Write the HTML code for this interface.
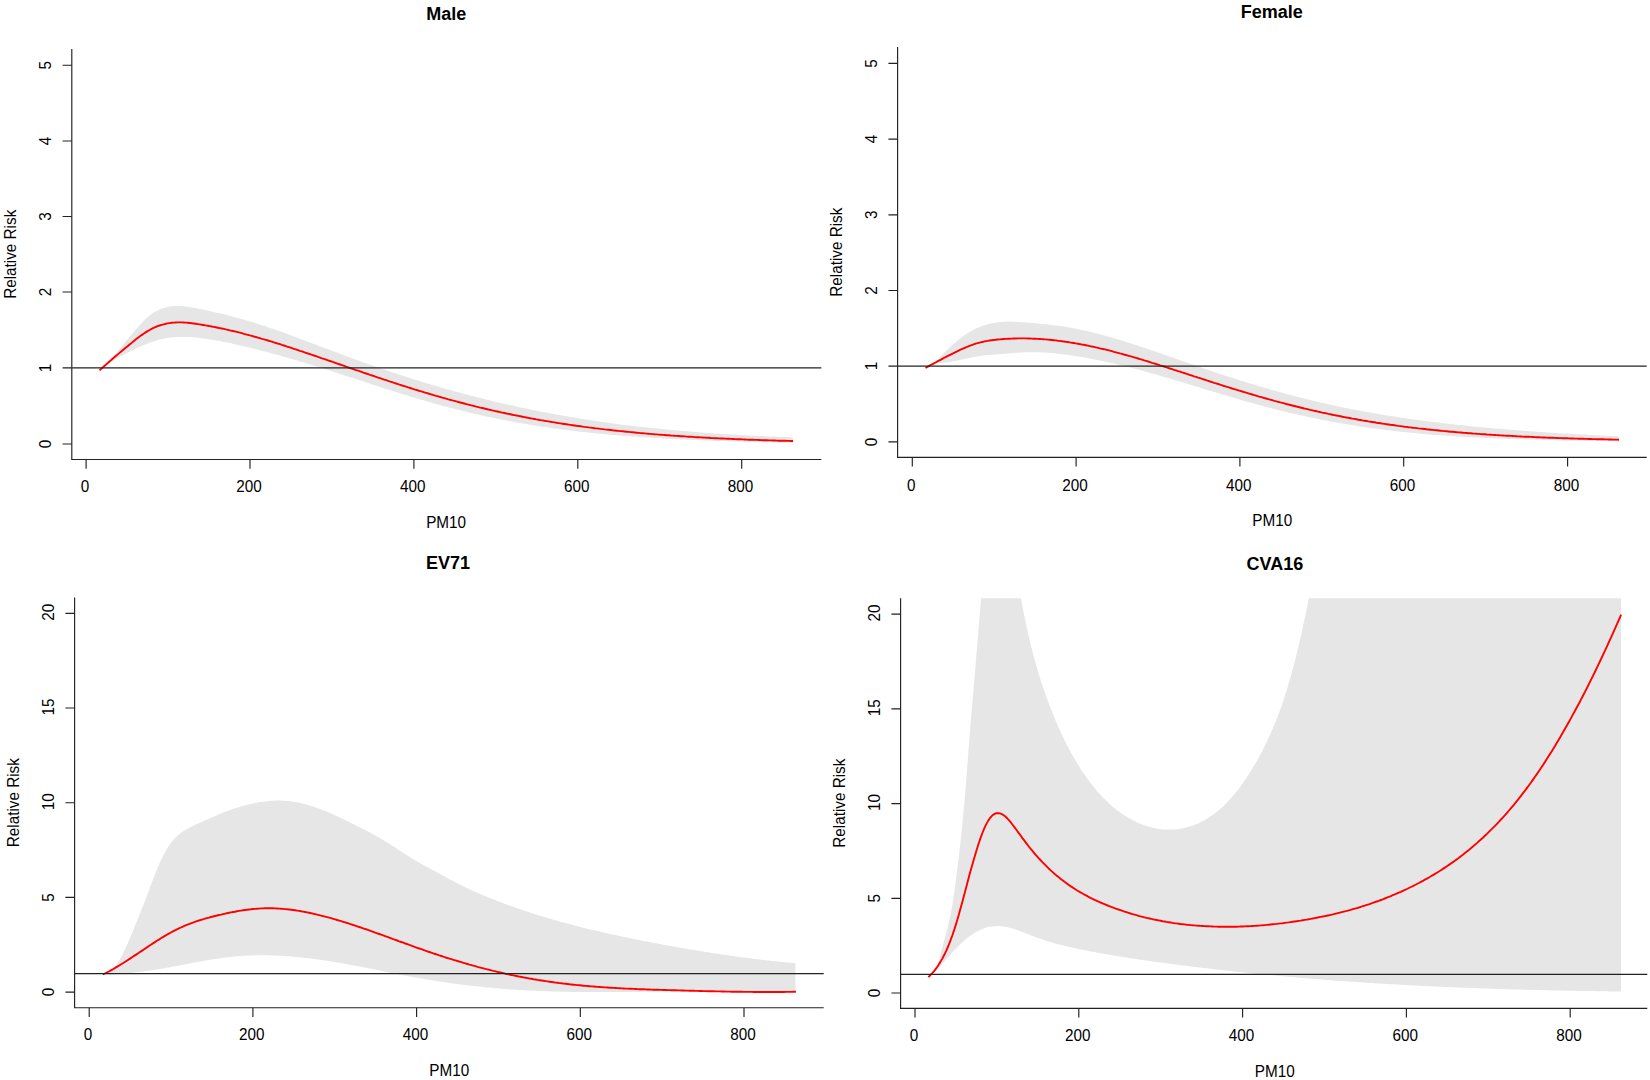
<!DOCTYPE html>
<html lang="en"><head><meta charset="utf-8"><title>Relative Risk vs PM10</title>
<style>html,body{margin:0;padding:0;background:#fff;}body{width:1650px;height:1080px;overflow:hidden;}svg{display:block;}</style>
</head><body>
<svg width="1650" height="1080" viewBox="0 0 1650 1080" font-family="'Liberation Sans', sans-serif" font-size="16.4" fill="#000">
<rect width="1650" height="1080" fill="#fff"/>
<defs><clipPath id="c0"><rect x="71.8" y="49.1" width="749.5" height="410.4"/></clipPath></defs>
<g clip-path="url(#c0)">
<path d="M99.5 370.4 L101.5 368.4 L103.5 366.4 L105.5 364.4 L107.5 362.4 L109.5 360.4 L111.5 358.2 L113.5 356.0 L115.5 353.7 L117.5 351.4 L119.5 349.0 L121.5 346.5 L123.6 344.0 L125.6 341.6 L127.6 339.2 L129.6 336.8 L131.6 334.4 L133.6 332.1 L135.6 329.8 L137.6 327.5 L139.6 325.3 L141.6 323.1 L143.6 321.1 L145.6 319.1 L147.6 317.2 L149.6 315.5 L151.6 314.0 L153.6 312.6 L155.6 311.4 L157.6 310.4 L159.6 309.4 L161.6 308.6 L163.6 308.0 L165.6 307.4 L167.6 306.9 L169.7 306.5 L171.7 306.3 L173.7 306.1 L175.7 306.0 L177.7 305.9 L179.7 306.0 L181.7 306.1 L183.7 306.2 L185.7 306.4 L187.7 306.7 L189.7 307.0 L191.7 307.4 L193.7 307.7 L195.7 308.1 L197.7 308.5 L199.7 308.9 L201.7 309.3 L203.7 309.8 L205.7 310.2 L207.7 310.6 L209.7 311.1 L211.7 311.5 L213.7 312.0 L215.8 312.4 L217.8 312.9 L219.8 313.3 L221.8 313.8 L223.8 314.3 L225.8 314.8 L227.8 315.3 L229.8 315.8 L231.8 316.3 L233.8 316.9 L235.8 317.4 L237.8 317.9 L239.8 318.5 L241.8 319.1 L243.8 319.6 L245.8 320.2 L247.8 320.8 L249.8 321.4 L251.8 322.0 L253.8 322.6 L255.8 323.2 L257.8 323.9 L259.8 324.5 L261.9 325.2 L263.9 325.8 L265.9 326.5 L267.9 327.2 L269.9 327.9 L271.9 328.6 L273.9 329.3 L275.9 330.0 L277.9 330.7 L279.9 331.4 L281.9 332.1 L283.9 332.8 L285.9 333.5 L287.9 334.3 L289.9 335.0 L291.9 335.7 L293.9 336.5 L295.9 337.2 L297.9 338.0 L299.9 338.7 L301.9 339.5 L303.9 340.2 L305.9 341.0 L308.0 341.7 L310.0 342.5 L312.0 343.3 L314.0 344.0 L316.0 344.8 L318.0 345.5 L320.0 346.3 L322.0 347.1 L324.0 347.8 L326.0 348.6 L328.0 349.3 L330.0 350.1 L332.0 350.8 L334.0 351.6 L336.0 352.3 L338.0 353.1 L340.0 353.8 L342.0 354.6 L344.0 355.3 L346.0 356.1 L348.0 356.8 L350.0 357.5 L352.0 358.3 L354.1 359.0 L356.1 359.7 L358.1 360.4 L360.1 361.2 L362.1 361.9 L364.1 362.6 L366.1 363.3 L368.1 364.0 L370.1 364.7 L372.1 365.4 L374.1 366.1 L376.1 366.8 L378.1 367.5 L380.1 368.2 L382.1 368.9 L384.1 369.6 L386.1 370.2 L388.1 370.9 L390.1 371.6 L392.1 372.3 L394.1 372.9 L396.1 373.6 L398.1 374.2 L400.2 374.9 L402.2 375.5 L404.2 376.2 L406.2 376.8 L408.2 377.5 L410.2 378.1 L412.2 378.7 L414.2 379.4 L416.2 380.0 L418.2 380.6 L420.2 381.2 L422.2 381.9 L424.2 382.5 L426.2 383.1 L428.2 383.7 L430.2 384.3 L432.2 384.9 L434.2 385.5 L436.2 386.1 L438.2 386.6 L440.2 387.2 L442.2 387.8 L444.2 388.4 L446.2 388.9 L448.3 389.5 L450.3 390.1 L452.3 390.6 L454.3 391.2 L456.3 391.7 L458.3 392.3 L460.3 392.8 L462.3 393.4 L464.3 393.9 L466.3 394.4 L468.3 395.0 L470.3 395.5 L472.3 396.0 L474.3 396.5 L476.3 397.0 L478.3 397.5 L480.3 398.0 L482.3 398.5 L484.3 399.0 L486.3 399.5 L488.3 400.0 L490.3 400.5 L492.3 401.0 L494.4 401.5 L496.4 402.0 L498.4 402.4 L500.4 402.9 L502.4 403.4 L504.4 403.8 L506.4 404.3 L508.4 404.7 L510.4 405.2 L512.4 405.6 L514.4 406.1 L516.4 406.5 L518.4 406.9 L520.4 407.4 L522.4 407.8 L524.4 408.2 L526.4 408.6 L528.4 409.1 L530.4 409.5 L532.4 409.9 L534.4 410.3 L536.4 410.7 L538.4 411.1 L540.5 411.5 L542.5 411.9 L544.5 412.3 L546.5 412.6 L548.5 413.0 L550.5 413.4 L552.5 413.8 L554.5 414.1 L556.5 414.5 L558.5 414.9 L560.5 415.2 L562.5 415.6 L564.5 415.9 L566.5 416.3 L568.5 416.6 L570.5 417.0 L572.5 417.3 L574.5 417.6 L576.5 418.0 L578.5 418.3 L580.5 418.6 L582.5 419.0 L584.5 419.3 L586.6 419.6 L588.6 419.9 L590.6 420.2 L592.6 420.5 L594.6 420.8 L596.6 421.1 L598.6 421.4 L600.6 421.7 L602.6 422.0 L604.6 422.3 L606.6 422.5 L608.6 422.8 L610.6 423.1 L612.6 423.4 L614.6 423.6 L616.6 423.9 L618.6 424.2 L620.6 424.4 L622.6 424.7 L624.6 424.9 L626.6 425.2 L628.6 425.4 L630.6 425.7 L632.7 425.9 L634.7 426.1 L636.7 426.4 L638.7 426.6 L640.7 426.8 L642.7 427.0 L644.7 427.3 L646.7 427.5 L648.7 427.7 L650.7 427.9 L652.7 428.1 L654.7 428.3 L656.7 428.5 L658.7 428.7 L660.7 428.9 L662.7 429.1 L664.7 429.3 L666.7 429.5 L668.7 429.7 L670.7 429.9 L672.7 430.1 L674.7 430.3 L676.7 430.4 L678.8 430.6 L680.8 430.8 L682.8 431.0 L684.8 431.1 L686.8 431.3 L688.8 431.5 L690.8 431.6 L692.8 431.8 L694.8 431.9 L696.8 432.1 L698.8 432.2 L700.8 432.4 L702.8 432.5 L704.8 432.7 L706.8 432.8 L708.8 433.0 L710.8 433.1 L712.8 433.3 L714.8 433.4 L716.8 433.5 L718.8 433.7 L720.8 433.8 L722.8 433.9 L724.9 434.0 L726.9 434.2 L728.9 434.3 L730.9 434.4 L732.9 434.5 L734.9 434.6 L736.9 434.8 L738.9 434.9 L740.9 435.0 L742.9 435.1 L744.9 435.2 L746.9 435.3 L748.9 435.4 L750.9 435.5 L752.9 435.6 L754.9 435.7 L756.9 435.8 L758.9 435.9 L760.9 436.0 L762.9 436.1 L764.9 436.2 L766.9 436.3 L768.9 436.4 L771.0 436.5 L773.0 436.6 L775.0 436.6 L777.0 436.7 L779.0 436.8 L781.0 436.9 L783.0 437.0 L785.0 437.0 L787.0 437.1 L789.0 437.2 L791.0 437.3 L793.0 437.4 L793.0 442.7 L791.0 442.7 L789.0 442.6 L787.0 442.6 L785.0 442.6 L783.0 442.5 L781.0 442.5 L779.0 442.4 L777.0 442.4 L775.0 442.4 L773.0 442.3 L771.0 442.3 L768.9 442.3 L766.9 442.2 L764.9 442.2 L762.9 442.1 L760.9 442.1 L758.9 442.0 L756.9 442.0 L754.9 441.9 L752.9 441.9 L750.9 441.8 L748.9 441.8 L746.9 441.7 L744.9 441.7 L742.9 441.6 L740.9 441.6 L738.9 441.5 L736.9 441.5 L734.9 441.4 L732.9 441.4 L730.9 441.3 L728.9 441.2 L726.9 441.2 L724.9 441.1 L722.8 441.1 L720.8 441.0 L718.8 440.9 L716.8 440.9 L714.8 440.8 L712.8 440.7 L710.8 440.6 L708.8 440.6 L706.8 440.5 L704.8 440.4 L702.8 440.3 L700.8 440.3 L698.8 440.2 L696.8 440.1 L694.8 440.0 L692.8 439.9 L690.8 439.8 L688.8 439.7 L686.8 439.7 L684.8 439.6 L682.8 439.5 L680.8 439.4 L678.8 439.3 L676.7 439.2 L674.7 439.1 L672.7 439.0 L670.7 438.9 L668.7 438.8 L666.7 438.7 L664.7 438.5 L662.7 438.4 L660.7 438.3 L658.7 438.2 L656.7 438.1 L654.7 438.0 L652.7 437.8 L650.7 437.7 L648.7 437.6 L646.7 437.4 L644.7 437.3 L642.7 437.2 L640.7 437.0 L638.7 436.9 L636.7 436.8 L634.7 436.6 L632.7 436.5 L630.6 436.3 L628.6 436.2 L626.6 436.0 L624.6 435.9 L622.6 435.7 L620.6 435.5 L618.6 435.4 L616.6 435.2 L614.6 435.0 L612.6 434.9 L610.6 434.7 L608.6 434.5 L606.6 434.3 L604.6 434.1 L602.6 434.0 L600.6 433.8 L598.6 433.6 L596.6 433.4 L594.6 433.2 L592.6 433.0 L590.6 432.8 L588.6 432.6 L586.6 432.3 L584.5 432.1 L582.5 431.9 L580.5 431.7 L578.5 431.5 L576.5 431.2 L574.5 431.0 L572.5 430.7 L570.5 430.5 L568.5 430.3 L566.5 430.0 L564.5 429.8 L562.5 429.5 L560.5 429.2 L558.5 429.0 L556.5 428.7 L554.5 428.4 L552.5 428.2 L550.5 427.9 L548.5 427.6 L546.5 427.3 L544.5 427.0 L542.5 426.7 L540.5 426.4 L538.4 426.1 L536.4 425.8 L534.4 425.5 L532.4 425.1 L530.4 424.8 L528.4 424.5 L526.4 424.1 L524.4 423.8 L522.4 423.5 L520.4 423.1 L518.4 422.8 L516.4 422.4 L514.4 422.0 L512.4 421.7 L510.4 421.3 L508.4 420.9 L506.4 420.5 L504.4 420.1 L502.4 419.8 L500.4 419.4 L498.4 419.0 L496.4 418.5 L494.4 418.1 L492.3 417.7 L490.3 417.3 L488.3 416.9 L486.3 416.4 L484.3 416.0 L482.3 415.6 L480.3 415.1 L478.3 414.6 L476.3 414.2 L474.3 413.7 L472.3 413.3 L470.3 412.8 L468.3 412.3 L466.3 411.8 L464.3 411.3 L462.3 410.8 L460.3 410.3 L458.3 409.8 L456.3 409.3 L454.3 408.8 L452.3 408.3 L450.3 407.8 L448.3 407.3 L446.2 406.7 L444.2 406.2 L442.2 405.7 L440.2 405.1 L438.2 404.6 L436.2 404.0 L434.2 403.4 L432.2 402.9 L430.2 402.3 L428.2 401.7 L426.2 401.2 L424.2 400.6 L422.2 400.0 L420.2 399.4 L418.2 398.8 L416.2 398.2 L414.2 397.6 L412.2 397.0 L410.2 396.4 L408.2 395.8 L406.2 395.2 L404.2 394.6 L402.2 394.0 L400.2 393.3 L398.1 392.7 L396.1 392.1 L394.1 391.4 L392.1 390.8 L390.1 390.2 L388.1 389.5 L386.1 388.9 L384.1 388.3 L382.1 387.6 L380.1 387.0 L378.1 386.3 L376.1 385.7 L374.1 385.0 L372.1 384.4 L370.1 383.7 L368.1 383.1 L366.1 382.4 L364.1 381.7 L362.1 381.1 L360.1 380.4 L358.1 379.8 L356.1 379.1 L354.1 378.5 L352.0 377.8 L350.0 377.2 L348.0 376.5 L346.0 375.9 L344.0 375.2 L342.0 374.6 L340.0 373.9 L338.0 373.3 L336.0 372.6 L334.0 372.0 L332.0 371.3 L330.0 370.7 L328.0 370.1 L326.0 369.4 L324.0 368.8 L322.0 368.2 L320.0 367.5 L318.0 366.9 L316.0 366.3 L314.0 365.7 L312.0 365.0 L310.0 364.4 L308.0 363.8 L305.9 363.2 L303.9 362.6 L301.9 362.0 L299.9 361.4 L297.9 360.8 L295.9 360.2 L293.9 359.6 L291.9 359.0 L289.9 358.5 L287.9 357.9 L285.9 357.3 L283.9 356.8 L281.9 356.2 L279.9 355.6 L277.9 355.1 L275.9 354.5 L273.9 354.0 L271.9 353.4 L269.9 352.9 L267.9 352.3 L265.9 351.8 L263.9 351.3 L261.9 350.8 L259.8 350.3 L257.8 349.7 L255.8 349.2 L253.8 348.7 L251.8 348.2 L249.8 347.7 L247.8 347.3 L245.8 346.8 L243.8 346.3 L241.8 345.8 L239.8 345.4 L237.8 344.9 L235.8 344.4 L233.8 344.0 L231.8 343.6 L229.8 343.1 L227.8 342.7 L225.8 342.3 L223.8 341.9 L221.8 341.5 L219.8 341.1 L217.8 340.8 L215.8 340.4 L213.7 340.1 L211.7 339.8 L209.7 339.4 L207.7 339.1 L205.7 338.8 L203.7 338.6 L201.7 338.3 L199.7 338.1 L197.7 337.8 L195.7 337.6 L193.7 337.4 L191.7 337.3 L189.7 337.1 L187.7 337.0 L185.7 336.9 L183.7 336.9 L181.7 336.9 L179.7 336.9 L177.7 336.9 L175.7 337.0 L173.7 337.2 L171.7 337.4 L169.7 337.6 L167.6 337.9 L165.6 338.3 L163.6 338.7 L161.6 339.1 L159.6 339.6 L157.6 340.2 L155.6 340.8 L153.6 341.4 L151.6 342.1 L149.6 342.8 L147.6 343.5 L145.6 344.3 L143.6 345.1 L141.6 345.9 L139.6 346.8 L137.6 347.7 L135.6 348.6 L133.6 349.6 L131.6 350.6 L129.6 351.7 L127.6 352.7 L125.6 353.7 L123.6 354.7 L121.5 355.7 L119.5 356.7 L117.5 357.7 L115.5 358.8 L113.5 360.0 L111.5 361.2 L109.5 362.6 L107.5 364.1 L105.5 365.6 L103.5 367.2 L101.5 368.8 L99.5 370.4 Z" fill="#e6e6e6" stroke="none"/>
<path d="M99.5 370.4 L101.5 368.6 L103.5 366.8 L105.5 365.0 L107.5 363.3 L109.5 361.5 L111.5 359.8 L113.5 358.0 L115.5 356.3 L117.5 354.6 L119.5 352.9 L121.5 351.2 L123.6 349.5 L125.6 347.8 L127.6 346.2 L129.6 344.5 L131.6 342.9 L133.6 341.2 L135.6 339.6 L137.6 338.1 L139.6 336.6 L141.6 335.1 L143.6 333.7 L145.6 332.4 L147.6 331.1 L149.6 330.0 L151.6 328.9 L153.6 327.9 L155.6 327.0 L157.6 326.2 L159.6 325.5 L161.6 324.8 L163.6 324.3 L165.6 323.8 L167.6 323.4 L169.7 323.1 L171.7 322.8 L173.7 322.6 L175.7 322.5 L177.7 322.4 L179.7 322.4 L181.7 322.4 L183.7 322.5 L185.7 322.6 L187.7 322.8 L189.7 323.0 L191.7 323.2 L193.7 323.5 L195.7 323.8 L197.7 324.1 L199.7 324.4 L201.7 324.7 L203.7 325.0 L205.7 325.4 L207.7 325.7 L209.7 326.1 L211.7 326.5 L213.7 326.9 L215.8 327.3 L217.8 327.7 L219.8 328.1 L221.8 328.5 L223.8 328.9 L225.8 329.4 L227.8 329.8 L229.8 330.3 L231.8 330.8 L233.8 331.2 L235.8 331.7 L237.8 332.2 L239.8 332.7 L241.8 333.2 L243.8 333.8 L245.8 334.3 L247.8 334.8 L249.8 335.4 L251.8 335.9 L253.8 336.5 L255.8 337.0 L257.8 337.6 L259.8 338.2 L261.9 338.8 L263.9 339.3 L265.9 339.9 L267.9 340.5 L269.9 341.1 L271.9 341.7 L273.9 342.4 L275.9 343.0 L277.9 343.6 L279.9 344.2 L281.9 344.9 L283.9 345.5 L285.9 346.2 L287.9 346.8 L289.9 347.4 L291.9 348.1 L293.9 348.8 L295.9 349.4 L297.9 350.1 L299.9 350.8 L301.9 351.4 L303.9 352.1 L305.9 352.8 L308.0 353.5 L310.0 354.1 L312.0 354.8 L314.0 355.5 L316.0 356.2 L318.0 356.9 L320.0 357.6 L322.0 358.3 L324.0 358.9 L326.0 359.6 L328.0 360.3 L330.0 361.0 L332.0 361.7 L334.0 362.4 L336.0 363.1 L338.0 363.8 L340.0 364.5 L342.0 365.2 L344.0 365.9 L346.0 366.6 L348.0 367.3 L350.0 368.0 L352.0 368.7 L354.1 369.4 L356.1 370.1 L358.1 370.7 L360.1 371.4 L362.1 372.1 L364.1 372.8 L366.1 373.5 L368.1 374.2 L370.1 374.9 L372.1 375.5 L374.1 376.2 L376.1 376.9 L378.1 377.6 L380.1 378.2 L382.1 378.9 L384.1 379.6 L386.1 380.2 L388.1 380.9 L390.1 381.6 L392.1 382.2 L394.1 382.9 L396.1 383.5 L398.1 384.2 L400.2 384.8 L402.2 385.5 L404.2 386.1 L406.2 386.7 L408.2 387.4 L410.2 388.0 L412.2 388.6 L414.2 389.3 L416.2 389.9 L418.2 390.5 L420.2 391.1 L422.2 391.7 L424.2 392.3 L426.2 392.9 L428.2 393.5 L430.2 394.1 L432.2 394.7 L434.2 395.3 L436.2 395.9 L438.2 396.4 L440.2 397.0 L442.2 397.6 L444.2 398.1 L446.2 398.7 L448.3 399.3 L450.3 399.8 L452.3 400.4 L454.3 400.9 L456.3 401.4 L458.3 402.0 L460.3 402.5 L462.3 403.0 L464.3 403.5 L466.3 404.1 L468.3 404.6 L470.3 405.1 L472.3 405.6 L474.3 406.1 L476.3 406.6 L478.3 407.1 L480.3 407.6 L482.3 408.0 L484.3 408.5 L486.3 409.0 L488.3 409.5 L490.3 409.9 L492.3 410.4 L494.4 410.8 L496.4 411.3 L498.4 411.7 L500.4 412.2 L502.4 412.6 L504.4 413.0 L506.4 413.5 L508.4 413.9 L510.4 414.3 L512.4 414.7 L514.4 415.1 L516.4 415.5 L518.4 415.9 L520.4 416.3 L522.4 416.7 L524.4 417.1 L526.4 417.5 L528.4 417.9 L530.4 418.3 L532.4 418.6 L534.4 419.0 L536.4 419.4 L538.4 419.7 L540.5 420.1 L542.5 420.4 L544.5 420.8 L546.5 421.1 L548.5 421.4 L550.5 421.8 L552.5 422.1 L554.5 422.4 L556.5 422.8 L558.5 423.1 L560.5 423.4 L562.5 423.7 L564.5 424.0 L566.5 424.3 L568.5 424.6 L570.5 424.9 L572.5 425.2 L574.5 425.5 L576.5 425.8 L578.5 426.0 L580.5 426.3 L582.5 426.6 L584.5 426.9 L586.6 427.1 L588.6 427.4 L590.6 427.6 L592.6 427.9 L594.6 428.2 L596.6 428.4 L598.6 428.6 L600.6 428.9 L602.6 429.1 L604.6 429.4 L606.6 429.6 L608.6 429.8 L610.6 430.0 L612.6 430.3 L614.6 430.5 L616.6 430.7 L618.6 430.9 L620.6 431.1 L622.6 431.3 L624.6 431.5 L626.6 431.7 L628.6 431.9 L630.6 432.1 L632.7 432.3 L634.7 432.5 L636.7 432.7 L638.7 432.9 L640.7 433.1 L642.7 433.2 L644.7 433.4 L646.7 433.6 L648.7 433.8 L650.7 433.9 L652.7 434.1 L654.7 434.3 L656.7 434.4 L658.7 434.6 L660.7 434.7 L662.7 434.9 L664.7 435.0 L666.7 435.2 L668.7 435.3 L670.7 435.5 L672.7 435.6 L674.7 435.8 L676.7 435.9 L678.8 436.0 L680.8 436.2 L682.8 436.3 L684.8 436.4 L686.8 436.6 L688.8 436.7 L690.8 436.8 L692.8 436.9 L694.8 437.1 L696.8 437.2 L698.8 437.3 L700.8 437.4 L702.8 437.5 L704.8 437.6 L706.8 437.7 L708.8 437.8 L710.8 438.0 L712.8 438.1 L714.8 438.2 L716.8 438.3 L718.8 438.4 L720.8 438.5 L722.8 438.5 L724.9 438.6 L726.9 438.7 L728.9 438.8 L730.9 438.9 L732.9 439.0 L734.9 439.1 L736.9 439.2 L738.9 439.3 L740.9 439.3 L742.9 439.4 L744.9 439.5 L746.9 439.6 L748.9 439.7 L750.9 439.7 L752.9 439.8 L754.9 439.9 L756.9 439.9 L758.9 440.0 L760.9 440.1 L762.9 440.2 L764.9 440.2 L766.9 440.3 L768.9 440.4 L771.0 440.4 L773.0 440.5 L775.0 440.5 L777.0 440.6 L779.0 440.7 L781.0 440.7 L783.0 440.8 L785.0 440.8 L787.0 440.9 L789.0 440.9 L791.0 441.0 L793.0 441.0" fill="none" stroke="#ff0000" stroke-width="1.90" stroke-linejoin="round"/>
</g>
<g stroke="#222" stroke-width="1.15" fill="none">
<path d="M71.8 367.9 H821.3"/>
<path d="M71.8 49.1 V459.5 H821.3"/>
<path d="M71.8 444.0 H62.6 M71.8 367.9 H62.6 M71.8 292.0 H62.6 M71.8 216.5 H62.6 M71.8 141.0 H62.6 M71.8 65.2 H62.6 M86.1 459.5 V468.7 M250.0 459.5 V468.7 M413.9 459.5 V468.7 M577.8 459.5 V468.7 M741.7 459.5 V468.7"/>
</g>
<text transform="translate(50.8 444.0) rotate(-90) scale(0.932 1)" text-anchor="middle">0</text>
<text transform="translate(50.8 367.9) rotate(-90) scale(0.932 1)" text-anchor="middle">1</text>
<text transform="translate(50.8 292.0) rotate(-90) scale(0.932 1)" text-anchor="middle">2</text>
<text transform="translate(50.8 216.5) rotate(-90) scale(0.932 1)" text-anchor="middle">3</text>
<text transform="translate(50.8 141.0) rotate(-90) scale(0.932 1)" text-anchor="middle">4</text>
<text transform="translate(50.8 65.2) rotate(-90) scale(0.932 1)" text-anchor="middle">5</text>
<text transform="translate(85.0 491.6) scale(0.932 1)" text-anchor="middle">0</text>
<text transform="translate(248.9 491.6) scale(0.932 1)" text-anchor="middle">200</text>
<text transform="translate(412.8 491.6) scale(0.932 1)" text-anchor="middle">400</text>
<text transform="translate(576.7 491.6) scale(0.932 1)" text-anchor="middle">600</text>
<text transform="translate(740.6 491.6) scale(0.932 1)" text-anchor="middle">800</text>
<text transform="translate(446.1 527.7) scale(0.932 1)" text-anchor="middle">PM10</text>
<text transform="translate(16.0 254.3) rotate(-90) scale(0.932 1)" text-anchor="middle">Relative Risk</text>
<text x="446.2" y="20.1" text-anchor="middle" font-weight="bold" font-size="18">Male</text>
<defs><clipPath id="c1"><rect x="897.6" y="47.1" width="749.1" height="410.2"/></clipPath></defs>
<g clip-path="url(#c1)">
<path d="M925.5 367.9 L927.5 366.8 L929.5 365.7 L931.5 364.7 L933.5 363.6 L935.5 361.8 L937.5 359.7 L939.5 357.5 L941.5 355.4 L943.5 353.4 L945.5 351.4 L947.5 349.4 L949.6 347.5 L951.6 345.7 L953.6 343.9 L955.6 342.2 L957.6 340.6 L959.6 339.0 L961.6 337.5 L963.6 336.0 L965.6 334.6 L967.6 333.3 L969.6 332.1 L971.6 330.9 L973.6 329.8 L975.6 328.8 L977.6 327.8 L979.6 327.0 L981.6 326.2 L983.6 325.5 L985.6 324.9 L987.6 324.3 L989.6 323.8 L991.6 323.3 L993.6 322.9 L995.7 322.6 L997.7 322.3 L999.7 322.1 L1001.7 321.9 L1003.7 321.8 L1005.7 321.7 L1007.7 321.6 L1009.7 321.6 L1011.7 321.7 L1013.7 321.7 L1015.7 321.8 L1017.7 321.9 L1019.7 322.0 L1021.7 322.2 L1023.7 322.3 L1025.7 322.5 L1027.7 322.6 L1029.7 322.8 L1031.7 322.9 L1033.7 323.1 L1035.7 323.3 L1037.7 323.5 L1039.7 323.7 L1041.8 323.9 L1043.8 324.1 L1045.8 324.3 L1047.8 324.5 L1049.8 324.7 L1051.8 325.0 L1053.8 325.2 L1055.8 325.5 L1057.8 325.8 L1059.8 326.0 L1061.8 326.3 L1063.8 326.6 L1065.8 327.0 L1067.8 327.3 L1069.8 327.6 L1071.8 328.0 L1073.8 328.3 L1075.8 328.7 L1077.8 329.1 L1079.8 329.5 L1081.8 329.9 L1083.8 330.4 L1085.8 330.8 L1087.9 331.3 L1089.9 331.7 L1091.9 332.2 L1093.9 332.7 L1095.9 333.2 L1097.9 333.7 L1099.9 334.2 L1101.9 334.8 L1103.9 335.3 L1105.9 335.9 L1107.9 336.4 L1109.9 337.0 L1111.9 337.6 L1113.9 338.2 L1115.9 338.8 L1117.9 339.4 L1119.9 340.0 L1121.9 340.6 L1123.9 341.2 L1125.9 341.8 L1127.9 342.5 L1129.9 343.1 L1131.9 343.7 L1134.0 344.4 L1136.0 345.0 L1138.0 345.7 L1140.0 346.4 L1142.0 347.0 L1144.0 347.7 L1146.0 348.4 L1148.0 349.1 L1150.0 349.7 L1152.0 350.4 L1154.0 351.1 L1156.0 351.8 L1158.0 352.5 L1160.0 353.2 L1162.0 353.9 L1164.0 354.6 L1166.0 355.3 L1168.0 356.0 L1170.0 356.7 L1172.0 357.4 L1174.0 358.1 L1176.0 358.8 L1178.0 359.5 L1180.1 360.2 L1182.1 360.9 L1184.1 361.6 L1186.1 362.3 L1188.1 363.0 L1190.1 363.7 L1192.1 364.3 L1194.1 365.0 L1196.1 365.7 L1198.1 366.4 L1200.1 367.1 L1202.1 367.8 L1204.1 368.5 L1206.1 369.2 L1208.1 369.8 L1210.1 370.5 L1212.1 371.2 L1214.1 371.9 L1216.1 372.5 L1218.1 373.2 L1220.1 373.9 L1222.1 374.5 L1224.1 375.2 L1226.2 375.9 L1228.2 376.5 L1230.2 377.2 L1232.2 377.8 L1234.2 378.4 L1236.2 379.1 L1238.2 379.7 L1240.2 380.4 L1242.2 381.0 L1244.2 381.6 L1246.2 382.2 L1248.2 382.9 L1250.2 383.5 L1252.2 384.1 L1254.2 384.7 L1256.2 385.3 L1258.2 385.9 L1260.2 386.5 L1262.2 387.1 L1264.2 387.7 L1266.2 388.3 L1268.2 388.8 L1270.2 389.4 L1272.2 390.0 L1274.3 390.6 L1276.3 391.1 L1278.3 391.7 L1280.3 392.2 L1282.3 392.8 L1284.3 393.3 L1286.3 393.9 L1288.3 394.4 L1290.3 395.0 L1292.3 395.5 L1294.3 396.0 L1296.3 396.5 L1298.3 397.0 L1300.3 397.6 L1302.3 398.1 L1304.3 398.6 L1306.3 399.1 L1308.3 399.5 L1310.3 400.0 L1312.3 400.5 L1314.3 401.0 L1316.3 401.5 L1318.3 401.9 L1320.4 402.4 L1322.4 402.9 L1324.4 403.3 L1326.4 403.8 L1328.4 404.2 L1330.4 404.7 L1332.4 405.1 L1334.4 405.5 L1336.4 406.0 L1338.4 406.4 L1340.4 406.8 L1342.4 407.2 L1344.4 407.7 L1346.4 408.1 L1348.4 408.5 L1350.4 408.9 L1352.4 409.3 L1354.4 409.6 L1356.4 410.0 L1358.4 410.4 L1360.4 410.8 L1362.4 411.2 L1364.4 411.5 L1366.5 411.9 L1368.5 412.3 L1370.5 412.6 L1372.5 413.0 L1374.5 413.3 L1376.5 413.7 L1378.5 414.0 L1380.5 414.4 L1382.5 414.7 L1384.5 415.0 L1386.5 415.3 L1388.5 415.7 L1390.5 416.0 L1392.5 416.3 L1394.5 416.6 L1396.5 416.9 L1398.5 417.2 L1400.5 417.5 L1402.5 417.8 L1404.5 418.1 L1406.5 418.4 L1408.5 418.7 L1410.5 419.0 L1412.6 419.3 L1414.6 419.5 L1416.6 419.8 L1418.6 420.1 L1420.6 420.4 L1422.6 420.6 L1424.6 420.9 L1426.6 421.1 L1428.6 421.4 L1430.6 421.7 L1432.6 421.9 L1434.6 422.1 L1436.6 422.4 L1438.6 422.6 L1440.6 422.9 L1442.6 423.1 L1444.6 423.4 L1446.6 423.6 L1448.6 423.8 L1450.6 424.0 L1452.6 424.3 L1454.6 424.5 L1456.6 424.7 L1458.7 424.9 L1460.7 425.1 L1462.7 425.3 L1464.7 425.6 L1466.7 425.8 L1468.7 426.0 L1470.7 426.2 L1472.7 426.4 L1474.7 426.6 L1476.7 426.8 L1478.7 427.0 L1480.7 427.2 L1482.7 427.3 L1484.7 427.5 L1486.7 427.7 L1488.7 427.9 L1490.7 428.1 L1492.7 428.3 L1494.7 428.4 L1496.7 428.6 L1498.7 428.8 L1500.7 429.0 L1502.7 429.1 L1504.8 429.3 L1506.8 429.5 L1508.8 429.6 L1510.8 429.8 L1512.8 429.9 L1514.8 430.1 L1516.8 430.3 L1518.8 430.4 L1520.8 430.6 L1522.8 430.7 L1524.8 430.9 L1526.8 431.0 L1528.8 431.2 L1530.8 431.3 L1532.8 431.5 L1534.8 431.6 L1536.8 431.7 L1538.8 431.9 L1540.8 432.0 L1542.8 432.1 L1544.8 432.3 L1546.8 432.4 L1548.8 432.5 L1550.9 432.7 L1552.9 432.8 L1554.9 432.9 L1556.9 433.0 L1558.9 433.2 L1560.9 433.3 L1562.9 433.4 L1564.9 433.5 L1566.9 433.6 L1568.9 433.8 L1570.9 433.9 L1572.9 434.0 L1574.9 434.1 L1576.9 434.2 L1578.9 434.3 L1580.9 434.4 L1582.9 434.5 L1584.9 434.6 L1586.9 434.7 L1588.9 434.9 L1590.9 435.0 L1592.9 435.1 L1594.9 435.2 L1597.0 435.3 L1599.0 435.3 L1601.0 435.4 L1603.0 435.5 L1605.0 435.6 L1607.0 435.7 L1609.0 435.8 L1611.0 435.9 L1613.0 436.0 L1615.0 436.1 L1617.0 436.2 L1619.0 436.3 L1619.0 441.0 L1617.0 441.0 L1615.0 441.0 L1613.0 441.0 L1611.0 441.0 L1609.0 440.9 L1607.0 440.9 L1605.0 440.9 L1603.0 440.9 L1601.0 440.8 L1599.0 440.8 L1597.0 440.8 L1594.9 440.8 L1592.9 440.7 L1590.9 440.7 L1588.9 440.7 L1586.9 440.7 L1584.9 440.6 L1582.9 440.6 L1580.9 440.6 L1578.9 440.6 L1576.9 440.5 L1574.9 440.5 L1572.9 440.5 L1570.9 440.4 L1568.9 440.4 L1566.9 440.4 L1564.9 440.3 L1562.9 440.3 L1560.9 440.2 L1558.9 440.2 L1556.9 440.2 L1554.9 440.1 L1552.9 440.1 L1550.9 440.0 L1548.8 440.0 L1546.8 440.0 L1544.8 439.9 L1542.8 439.9 L1540.8 439.8 L1538.8 439.8 L1536.8 439.7 L1534.8 439.7 L1532.8 439.6 L1530.8 439.6 L1528.8 439.5 L1526.8 439.5 L1524.8 439.4 L1522.8 439.3 L1520.8 439.3 L1518.8 439.2 L1516.8 439.2 L1514.8 439.1 L1512.8 439.0 L1510.8 439.0 L1508.8 438.9 L1506.8 438.8 L1504.8 438.7 L1502.7 438.7 L1500.7 438.6 L1498.7 438.5 L1496.7 438.4 L1494.7 438.4 L1492.7 438.3 L1490.7 438.2 L1488.7 438.1 L1486.7 438.0 L1484.7 437.9 L1482.7 437.8 L1480.7 437.7 L1478.7 437.6 L1476.7 437.5 L1474.7 437.4 L1472.7 437.3 L1470.7 437.2 L1468.7 437.1 L1466.7 437.0 L1464.7 436.9 L1462.7 436.8 L1460.7 436.7 L1458.7 436.5 L1456.6 436.4 L1454.6 436.3 L1452.6 436.2 L1450.6 436.0 L1448.6 435.9 L1446.6 435.8 L1444.6 435.6 L1442.6 435.5 L1440.6 435.3 L1438.6 435.2 L1436.6 435.0 L1434.6 434.9 L1432.6 434.7 L1430.6 434.5 L1428.6 434.4 L1426.6 434.2 L1424.6 434.0 L1422.6 433.9 L1420.6 433.7 L1418.6 433.5 L1416.6 433.3 L1414.6 433.1 L1412.6 432.9 L1410.5 432.7 L1408.5 432.5 L1406.5 432.3 L1404.5 432.1 L1402.5 431.9 L1400.5 431.7 L1398.5 431.5 L1396.5 431.3 L1394.5 431.0 L1392.5 430.8 L1390.5 430.6 L1388.5 430.3 L1386.5 430.1 L1384.5 429.8 L1382.5 429.6 L1380.5 429.3 L1378.5 429.0 L1376.5 428.8 L1374.5 428.5 L1372.5 428.2 L1370.5 428.0 L1368.5 427.7 L1366.5 427.4 L1364.4 427.1 L1362.4 426.8 L1360.4 426.5 L1358.4 426.2 L1356.4 425.9 L1354.4 425.6 L1352.4 425.2 L1350.4 424.9 L1348.4 424.6 L1346.4 424.2 L1344.4 423.9 L1342.4 423.6 L1340.4 423.2 L1338.4 422.9 L1336.4 422.5 L1334.4 422.1 L1332.4 421.8 L1330.4 421.4 L1328.4 421.0 L1326.4 420.6 L1324.4 420.2 L1322.4 419.9 L1320.4 419.5 L1318.3 419.1 L1316.3 418.6 L1314.3 418.2 L1312.3 417.8 L1310.3 417.4 L1308.3 417.0 L1306.3 416.5 L1304.3 416.1 L1302.3 415.6 L1300.3 415.2 L1298.3 414.7 L1296.3 414.3 L1294.3 413.8 L1292.3 413.4 L1290.3 412.9 L1288.3 412.4 L1286.3 411.9 L1284.3 411.4 L1282.3 410.9 L1280.3 410.5 L1278.3 410.0 L1276.3 409.4 L1274.3 408.9 L1272.2 408.4 L1270.2 407.9 L1268.2 407.4 L1266.2 406.9 L1264.2 406.3 L1262.2 405.8 L1260.2 405.3 L1258.2 404.7 L1256.2 404.2 L1254.2 403.6 L1252.2 403.1 L1250.2 402.5 L1248.2 401.9 L1246.2 401.4 L1244.2 400.8 L1242.2 400.2 L1240.2 399.7 L1238.2 399.1 L1236.2 398.5 L1234.2 397.9 L1232.2 397.3 L1230.2 396.8 L1228.2 396.2 L1226.2 395.6 L1224.1 395.0 L1222.1 394.4 L1220.1 393.8 L1218.1 393.2 L1216.1 392.6 L1214.1 392.0 L1212.1 391.4 L1210.1 390.8 L1208.1 390.2 L1206.1 389.5 L1204.1 388.9 L1202.1 388.3 L1200.1 387.7 L1198.1 387.1 L1196.1 386.5 L1194.1 385.9 L1192.1 385.3 L1190.1 384.7 L1188.1 384.1 L1186.1 383.5 L1184.1 382.8 L1182.1 382.2 L1180.1 381.6 L1178.0 381.0 L1176.0 380.4 L1174.0 379.8 L1172.0 379.2 L1170.0 378.6 L1168.0 378.0 L1166.0 377.5 L1164.0 376.9 L1162.0 376.3 L1160.0 375.7 L1158.0 375.1 L1156.0 374.6 L1154.0 374.0 L1152.0 373.4 L1150.0 372.9 L1148.0 372.3 L1146.0 371.7 L1144.0 371.2 L1142.0 370.6 L1140.0 370.1 L1138.0 369.6 L1136.0 369.0 L1134.0 368.5 L1131.9 368.0 L1129.9 367.5 L1127.9 367.0 L1125.9 366.5 L1123.9 366.0 L1121.9 365.5 L1119.9 365.0 L1117.9 364.5 L1115.9 364.0 L1113.9 363.6 L1111.9 363.1 L1109.9 362.7 L1107.9 362.2 L1105.9 361.8 L1103.9 361.3 L1101.9 360.9 L1099.9 360.5 L1097.9 360.1 L1095.9 359.7 L1093.9 359.3 L1091.9 358.9 L1089.9 358.5 L1087.9 358.1 L1085.8 357.8 L1083.8 357.4 L1081.8 357.1 L1079.8 356.7 L1077.8 356.4 L1075.8 356.1 L1073.8 355.8 L1071.8 355.5 L1069.8 355.2 L1067.8 354.9 L1065.8 354.6 L1063.8 354.4 L1061.8 354.1 L1059.8 353.9 L1057.8 353.7 L1055.8 353.5 L1053.8 353.3 L1051.8 353.1 L1049.8 352.9 L1047.8 352.8 L1045.8 352.6 L1043.8 352.5 L1041.8 352.4 L1039.7 352.3 L1037.7 352.3 L1035.7 352.2 L1033.7 352.2 L1031.7 352.2 L1029.7 352.2 L1027.7 352.2 L1025.7 352.3 L1023.7 352.4 L1021.7 352.5 L1019.7 352.6 L1017.7 352.7 L1015.7 352.8 L1013.7 353.0 L1011.7 353.2 L1009.7 353.3 L1007.7 353.5 L1005.7 353.7 L1003.7 353.8 L1001.7 354.0 L999.7 354.1 L997.7 354.3 L995.7 354.4 L993.6 354.6 L991.6 354.8 L989.6 354.9 L987.6 355.1 L985.6 355.3 L983.6 355.6 L981.6 355.8 L979.6 356.1 L977.6 356.4 L975.6 356.7 L973.6 357.1 L971.6 357.5 L969.6 357.9 L967.6 358.3 L965.6 358.7 L963.6 359.2 L961.6 359.6 L959.6 360.1 L957.6 360.5 L955.6 360.9 L953.6 361.3 L951.6 361.7 L949.6 362.0 L947.5 362.3 L945.5 362.6 L943.5 362.8 L941.5 363.0 L939.5 363.1 L937.5 363.1 L935.5 363.2 L933.5 363.6 L931.5 364.7 L929.5 365.7 L927.5 366.8 L925.5 367.9 Z" fill="#e6e6e6" stroke="none"/>
<path d="M925.5 367.9 L927.5 366.8 L929.5 365.7 L931.5 364.7 L933.5 363.6 L935.5 362.5 L937.5 361.4 L939.5 360.4 L941.5 359.3 L943.5 358.2 L945.5 357.2 L947.5 356.1 L949.6 355.1 L951.6 354.1 L953.6 353.1 L955.6 352.1 L957.6 351.1 L959.6 350.1 L961.6 349.2 L963.6 348.3 L965.6 347.5 L967.6 346.6 L969.6 345.8 L971.6 345.1 L973.6 344.4 L975.6 343.7 L977.6 343.1 L979.6 342.6 L981.6 342.1 L983.6 341.7 L985.6 341.2 L987.6 340.9 L989.6 340.5 L991.6 340.2 L993.6 340.0 L995.7 339.8 L997.7 339.5 L999.7 339.4 L1001.7 339.2 L1003.7 339.0 L1005.7 338.9 L1007.7 338.8 L1009.7 338.7 L1011.7 338.6 L1013.7 338.5 L1015.7 338.5 L1017.7 338.4 L1019.7 338.4 L1021.7 338.4 L1023.7 338.4 L1025.7 338.4 L1027.7 338.5 L1029.7 338.5 L1031.7 338.6 L1033.7 338.7 L1035.7 338.8 L1037.7 338.9 L1039.7 339.0 L1041.8 339.1 L1043.8 339.3 L1045.8 339.4 L1047.8 339.6 L1049.8 339.8 L1051.8 340.0 L1053.8 340.2 L1055.8 340.4 L1057.8 340.7 L1059.8 340.9 L1061.8 341.2 L1063.8 341.5 L1065.8 341.8 L1067.8 342.0 L1069.8 342.4 L1071.8 342.7 L1073.8 343.0 L1075.8 343.4 L1077.8 343.7 L1079.8 344.1 L1081.8 344.5 L1083.8 344.8 L1085.8 345.2 L1087.9 345.6 L1089.9 346.1 L1091.9 346.5 L1093.9 346.9 L1095.9 347.4 L1097.9 347.8 L1099.9 348.3 L1101.9 348.8 L1103.9 349.2 L1105.9 349.7 L1107.9 350.2 L1109.9 350.7 L1111.9 351.2 L1113.9 351.8 L1115.9 352.3 L1117.9 352.8 L1119.9 353.4 L1121.9 353.9 L1123.9 354.5 L1125.9 355.0 L1127.9 355.6 L1129.9 356.2 L1131.9 356.7 L1134.0 357.3 L1136.0 357.9 L1138.0 358.5 L1140.0 359.1 L1142.0 359.7 L1144.0 360.3 L1146.0 360.9 L1148.0 361.5 L1150.0 362.1 L1152.0 362.8 L1154.0 363.4 L1156.0 364.0 L1158.0 364.6 L1160.0 365.3 L1162.0 365.9 L1164.0 366.5 L1166.0 367.2 L1168.0 367.8 L1170.0 368.5 L1172.0 369.1 L1174.0 369.8 L1176.0 370.4 L1178.0 371.1 L1180.1 371.7 L1182.1 372.4 L1184.1 373.0 L1186.1 373.7 L1188.1 374.3 L1190.1 375.0 L1192.1 375.6 L1194.1 376.3 L1196.1 376.9 L1198.1 377.6 L1200.1 378.2 L1202.1 378.9 L1204.1 379.5 L1206.1 380.2 L1208.1 380.8 L1210.1 381.5 L1212.1 382.1 L1214.1 382.8 L1216.1 383.4 L1218.1 384.0 L1220.1 384.7 L1222.1 385.3 L1224.1 386.0 L1226.2 386.6 L1228.2 387.2 L1230.2 387.8 L1232.2 388.5 L1234.2 389.1 L1236.2 389.7 L1238.2 390.3 L1240.2 390.9 L1242.2 391.5 L1244.2 392.1 L1246.2 392.7 L1248.2 393.3 L1250.2 393.9 L1252.2 394.5 L1254.2 395.1 L1256.2 395.7 L1258.2 396.3 L1260.2 396.8 L1262.2 397.4 L1264.2 398.0 L1266.2 398.5 L1268.2 399.1 L1270.2 399.7 L1272.2 400.2 L1274.3 400.8 L1276.3 401.3 L1278.3 401.8 L1280.3 402.4 L1282.3 402.9 L1284.3 403.4 L1286.3 404.0 L1288.3 404.5 L1290.3 405.0 L1292.3 405.5 L1294.3 406.0 L1296.3 406.5 L1298.3 407.0 L1300.3 407.5 L1302.3 408.0 L1304.3 408.5 L1306.3 408.9 L1308.3 409.4 L1310.3 409.9 L1312.3 410.3 L1314.3 410.8 L1316.3 411.2 L1318.3 411.7 L1320.4 412.1 L1322.4 412.6 L1324.4 413.0 L1326.4 413.4 L1328.4 413.9 L1330.4 414.3 L1332.4 414.7 L1334.4 415.1 L1336.4 415.5 L1338.4 415.9 L1340.4 416.3 L1342.4 416.7 L1344.4 417.1 L1346.4 417.5 L1348.4 417.8 L1350.4 418.2 L1352.4 418.6 L1354.4 418.9 L1356.4 419.3 L1358.4 419.7 L1360.4 420.0 L1362.4 420.4 L1364.4 420.7 L1366.5 421.0 L1368.5 421.4 L1370.5 421.7 L1372.5 422.0 L1374.5 422.3 L1376.5 422.7 L1378.5 423.0 L1380.5 423.3 L1382.5 423.6 L1384.5 423.9 L1386.5 424.2 L1388.5 424.5 L1390.5 424.8 L1392.5 425.0 L1394.5 425.3 L1396.5 425.6 L1398.5 425.9 L1400.5 426.1 L1402.5 426.4 L1404.5 426.7 L1406.5 426.9 L1408.5 427.2 L1410.5 427.4 L1412.6 427.7 L1414.6 427.9 L1416.6 428.1 L1418.6 428.4 L1420.6 428.6 L1422.6 428.8 L1424.6 429.0 L1426.6 429.3 L1428.6 429.5 L1430.6 429.7 L1432.6 429.9 L1434.6 430.1 L1436.6 430.3 L1438.6 430.5 L1440.6 430.7 L1442.6 430.9 L1444.6 431.1 L1446.6 431.3 L1448.6 431.5 L1450.6 431.7 L1452.6 431.8 L1454.6 432.0 L1456.6 432.2 L1458.7 432.4 L1460.7 432.5 L1462.7 432.7 L1464.7 432.9 L1466.7 433.0 L1468.7 433.2 L1470.7 433.3 L1472.7 433.5 L1474.7 433.6 L1476.7 433.8 L1478.7 433.9 L1480.7 434.1 L1482.7 434.2 L1484.7 434.3 L1486.7 434.5 L1488.7 434.6 L1490.7 434.7 L1492.7 434.9 L1494.7 435.0 L1496.7 435.1 L1498.7 435.2 L1500.7 435.4 L1502.7 435.5 L1504.8 435.6 L1506.8 435.7 L1508.8 435.8 L1510.8 435.9 L1512.8 436.0 L1514.8 436.1 L1516.8 436.3 L1518.8 436.4 L1520.8 436.5 L1522.8 436.6 L1524.8 436.7 L1526.8 436.7 L1528.8 436.8 L1530.8 436.9 L1532.8 437.0 L1534.8 437.1 L1536.8 437.2 L1538.8 437.3 L1540.8 437.4 L1542.8 437.5 L1544.8 437.5 L1546.8 437.6 L1548.8 437.7 L1550.9 437.8 L1552.9 437.8 L1554.9 437.9 L1556.9 438.0 L1558.9 438.1 L1560.9 438.1 L1562.9 438.2 L1564.9 438.3 L1566.9 438.3 L1568.9 438.4 L1570.9 438.5 L1572.9 438.5 L1574.9 438.6 L1576.9 438.6 L1578.9 438.7 L1580.9 438.8 L1582.9 438.8 L1584.9 438.9 L1586.9 438.9 L1588.9 439.0 L1590.9 439.0 L1592.9 439.1 L1594.9 439.1 L1597.0 439.2 L1599.0 439.2 L1601.0 439.3 L1603.0 439.3 L1605.0 439.4 L1607.0 439.4 L1609.0 439.5 L1611.0 439.5 L1613.0 439.6 L1615.0 439.6 L1617.0 439.6 L1619.0 439.7" fill="none" stroke="#ff0000" stroke-width="1.90" stroke-linejoin="round"/>
</g>
<g stroke="#222" stroke-width="1.15" fill="none">
<path d="M897.6 366.1 H1646.7"/>
<path d="M897.6 47.1 V457.3 H1646.7"/>
<path d="M897.6 441.9 H888.4 M897.6 366.1 H888.4 M897.6 290.5 H888.4 M897.6 214.8 H888.4 M897.6 139.1 H888.4 M897.6 63.4 H888.4 M912.3 457.3 V466.5 M1076.1 457.3 V466.5 M1239.9 457.3 V466.5 M1403.7 457.3 V466.5 M1567.6 457.3 V466.5"/>
</g>
<text transform="translate(876.6 441.9) rotate(-90) scale(0.932 1)" text-anchor="middle">0</text>
<text transform="translate(876.6 366.1) rotate(-90) scale(0.932 1)" text-anchor="middle">1</text>
<text transform="translate(876.6 290.5) rotate(-90) scale(0.932 1)" text-anchor="middle">2</text>
<text transform="translate(876.6 214.8) rotate(-90) scale(0.932 1)" text-anchor="middle">3</text>
<text transform="translate(876.6 139.1) rotate(-90) scale(0.932 1)" text-anchor="middle">4</text>
<text transform="translate(876.6 63.4) rotate(-90) scale(0.932 1)" text-anchor="middle">5</text>
<text transform="translate(911.2 490.5) scale(0.932 1)" text-anchor="middle">0</text>
<text transform="translate(1075.0 490.5) scale(0.932 1)" text-anchor="middle">200</text>
<text transform="translate(1238.8 490.5) scale(0.932 1)" text-anchor="middle">400</text>
<text transform="translate(1402.6 490.5) scale(0.932 1)" text-anchor="middle">600</text>
<text transform="translate(1566.5 490.5) scale(0.932 1)" text-anchor="middle">800</text>
<text transform="translate(1272.2 525.6) scale(0.932 1)" text-anchor="middle">PM10</text>
<text transform="translate(841.8 252.2) rotate(-90) scale(0.932 1)" text-anchor="middle">Relative Risk</text>
<text x="1271.8" y="18.1" text-anchor="middle" font-weight="bold" font-size="18">Female</text>
<defs><clipPath id="c2"><rect x="74.6" y="597.6" width="749.1" height="410.1"/></clipPath></defs>
<g clip-path="url(#c2)">
<path d="M102.8 974.5 L104.8 974.2 L106.8 973.5 L108.8 972.4 L110.8 970.9 L112.8 969.0 L114.8 966.7 L116.8 964.0 L118.8 960.9 L120.8 957.5 L122.8 953.8 L124.8 949.7 L126.8 945.3 L128.8 940.8 L130.8 936.0 L132.8 931.2 L134.8 926.3 L136.8 921.4 L138.8 916.5 L140.8 911.5 L142.8 906.4 L144.8 901.3 L146.8 896.0 L148.8 890.7 L150.8 885.3 L152.9 879.8 L154.9 874.5 L156.9 869.4 L158.9 864.7 L160.9 860.3 L162.9 856.2 L164.9 852.4 L166.9 849.0 L168.9 845.8 L170.9 843.0 L172.9 840.5 L174.9 838.2 L176.9 836.2 L178.9 834.5 L180.9 832.9 L182.9 831.5 L184.9 830.2 L186.9 829.0 L188.9 827.9 L190.9 826.9 L192.9 825.9 L194.9 825.0 L196.9 824.1 L198.9 823.2 L200.9 822.3 L202.9 821.4 L204.9 820.5 L206.9 819.6 L208.9 818.7 L210.9 817.8 L212.9 816.9 L214.9 816.0 L216.9 815.2 L218.9 814.3 L220.9 813.5 L222.9 812.7 L224.9 812.0 L226.9 811.2 L228.9 810.5 L230.9 809.8 L232.9 809.1 L234.9 808.5 L236.9 807.8 L238.9 807.2 L240.9 806.6 L242.9 806.0 L244.9 805.5 L246.9 804.9 L248.9 804.4 L250.9 804.0 L253.0 803.5 L255.0 803.1 L257.0 802.7 L259.0 802.3 L261.0 802.0 L263.0 801.7 L265.0 801.4 L267.0 801.2 L269.0 801.0 L271.0 800.8 L273.0 800.7 L275.0 800.6 L277.0 800.6 L279.0 800.6 L281.0 800.6 L283.0 800.7 L285.0 800.8 L287.0 801.0 L289.0 801.1 L291.0 801.4 L293.0 801.7 L295.0 802.0 L297.0 802.3 L299.0 802.7 L301.0 803.2 L303.0 803.7 L305.0 804.2 L307.0 804.7 L309.0 805.3 L311.0 805.9 L313.0 806.5 L315.0 807.2 L317.0 807.9 L319.0 808.6 L321.0 809.4 L323.0 810.2 L325.0 811.0 L327.0 811.8 L329.0 812.6 L331.0 813.5 L333.0 814.4 L335.0 815.3 L337.0 816.2 L339.0 817.1 L341.0 818.1 L343.0 819.0 L345.0 820.0 L347.0 821.0 L349.0 822.0 L351.1 822.9 L353.1 823.9 L355.1 824.9 L357.1 825.9 L359.1 827.0 L361.1 828.0 L363.1 829.0 L365.1 830.0 L367.1 831.1 L369.1 832.1 L371.1 833.2 L373.1 834.3 L375.1 835.4 L377.1 836.5 L379.1 837.6 L381.1 838.8 L383.1 840.0 L385.1 841.2 L387.1 842.4 L389.1 843.6 L391.1 844.9 L393.1 846.2 L395.1 847.5 L397.1 848.8 L399.1 850.2 L401.1 851.5 L403.1 852.8 L405.1 854.1 L407.1 855.4 L409.1 856.6 L411.1 857.9 L413.1 859.1 L415.1 860.2 L417.1 861.4 L419.1 862.5 L421.1 863.7 L423.1 864.8 L425.1 865.9 L427.1 867.0 L429.1 868.1 L431.1 869.2 L433.1 870.2 L435.1 871.3 L437.1 872.4 L439.1 873.5 L441.1 874.6 L443.1 875.7 L445.1 876.8 L447.1 877.9 L449.2 879.0 L451.2 880.1 L453.2 881.1 L455.2 882.2 L457.2 883.2 L459.2 884.2 L461.2 885.2 L463.2 886.2 L465.2 887.2 L467.2 888.2 L469.2 889.1 L471.2 890.0 L473.2 890.9 L475.2 891.8 L477.2 892.7 L479.2 893.6 L481.2 894.4 L483.2 895.3 L485.2 896.1 L487.2 896.9 L489.2 897.7 L491.2 898.5 L493.2 899.3 L495.2 900.1 L497.2 900.9 L499.2 901.7 L501.2 902.4 L503.2 903.2 L505.2 903.9 L507.2 904.7 L509.2 905.4 L511.2 906.1 L513.2 906.8 L515.2 907.5 L517.2 908.2 L519.2 908.9 L521.2 909.6 L523.2 910.3 L525.2 911.0 L527.2 911.6 L529.2 912.3 L531.2 912.9 L533.2 913.6 L535.2 914.2 L537.2 914.9 L539.2 915.5 L541.2 916.1 L543.2 916.7 L545.2 917.3 L547.2 917.9 L549.3 918.5 L551.3 919.1 L553.3 919.7 L555.3 920.3 L557.3 920.8 L559.3 921.4 L561.3 921.9 L563.3 922.5 L565.3 923.0 L567.3 923.6 L569.3 924.1 L571.3 924.6 L573.3 925.2 L575.3 925.7 L577.3 926.2 L579.3 926.7 L581.3 927.2 L583.3 927.7 L585.3 928.2 L587.3 928.7 L589.3 929.2 L591.3 929.7 L593.3 930.1 L595.3 930.6 L597.3 931.1 L599.3 931.5 L601.3 932.0 L603.3 932.5 L605.3 932.9 L607.3 933.4 L609.3 933.8 L611.3 934.2 L613.3 934.7 L615.3 935.1 L617.3 935.5 L619.3 936.0 L621.3 936.4 L623.3 936.8 L625.3 937.2 L627.3 937.6 L629.3 938.1 L631.3 938.5 L633.3 938.9 L635.3 939.3 L637.3 939.7 L639.3 940.1 L641.3 940.5 L643.3 940.9 L645.3 941.2 L647.4 941.6 L649.4 942.0 L651.4 942.4 L653.4 942.8 L655.4 943.2 L657.4 943.5 L659.4 943.9 L661.4 944.3 L663.4 944.7 L665.4 945.0 L667.4 945.4 L669.4 945.8 L671.4 946.1 L673.4 946.5 L675.4 946.8 L677.4 947.2 L679.4 947.6 L681.4 947.9 L683.4 948.3 L685.4 948.6 L687.4 948.9 L689.4 949.3 L691.4 949.6 L693.4 950.0 L695.4 950.3 L697.4 950.6 L699.4 951.0 L701.4 951.3 L703.4 951.6 L705.4 951.9 L707.4 952.3 L709.4 952.6 L711.4 952.9 L713.4 953.2 L715.4 953.5 L717.4 953.8 L719.4 954.1 L721.4 954.4 L723.4 954.7 L725.4 955.0 L727.4 955.3 L729.4 955.6 L731.4 955.9 L733.4 956.1 L735.4 956.4 L737.4 956.7 L739.4 957.0 L741.4 957.2 L743.4 957.5 L745.4 957.8 L747.5 958.0 L749.5 958.3 L751.5 958.5 L753.5 958.8 L755.5 959.0 L757.5 959.3 L759.5 959.5 L761.5 959.7 L763.5 960.0 L765.5 960.2 L767.5 960.4 L769.5 960.6 L771.5 960.9 L773.5 961.1 L775.5 961.3 L777.5 961.5 L779.5 961.7 L781.5 961.9 L783.5 962.1 L785.5 962.3 L787.5 962.5 L789.5 962.7 L791.5 962.8 L793.5 963.0 L795.5 963.2 L795.5 992.0 L793.5 991.9 L791.5 991.8 L789.5 991.8 L787.5 991.7 L785.5 991.6 L783.5 991.6 L781.5 991.5 L779.5 991.5 L777.5 991.4 L775.5 991.3 L773.5 991.3 L771.5 991.3 L769.5 991.2 L767.5 991.2 L765.5 991.1 L763.5 991.1 L761.5 991.1 L759.5 991.0 L757.5 991.0 L755.5 991.0 L753.5 991.0 L751.5 990.9 L749.5 990.9 L747.5 990.9 L745.4 990.9 L743.4 990.9 L741.4 990.9 L739.4 990.9 L737.4 990.9 L735.4 990.9 L733.4 990.9 L731.4 990.9 L729.4 990.9 L727.4 990.9 L725.4 990.9 L723.4 990.9 L721.4 990.9 L719.4 990.9 L717.4 990.9 L715.4 990.9 L713.4 990.9 L711.4 991.0 L709.4 991.0 L707.4 991.0 L705.4 991.0 L703.4 991.0 L701.4 991.0 L699.4 991.1 L697.4 991.1 L695.4 991.1 L693.4 991.1 L691.4 991.2 L689.4 991.2 L687.4 991.2 L685.4 991.2 L683.4 991.3 L681.4 991.3 L679.4 991.3 L677.4 991.4 L675.4 991.4 L673.4 991.4 L671.4 991.4 L669.4 991.5 L667.4 991.5 L665.4 991.5 L663.4 991.6 L661.4 991.6 L659.4 991.6 L657.4 991.6 L655.4 991.7 L653.4 991.7 L651.4 991.7 L649.4 991.7 L647.4 991.8 L645.3 991.8 L643.3 991.8 L641.3 991.8 L639.3 991.9 L637.3 991.9 L635.3 991.9 L633.3 991.9 L631.3 992.0 L629.3 992.0 L627.3 992.0 L625.3 992.0 L623.3 992.0 L621.3 992.0 L619.3 992.1 L617.3 992.1 L615.3 992.1 L613.3 992.1 L611.3 992.1 L609.3 992.1 L607.3 992.1 L605.3 992.1 L603.3 992.1 L601.3 992.1 L599.3 992.1 L597.3 992.1 L595.3 992.1 L593.3 992.1 L591.3 992.1 L589.3 992.1 L587.3 992.1 L585.3 992.0 L583.3 992.0 L581.3 992.0 L579.3 992.0 L577.3 992.0 L575.3 991.9 L573.3 991.9 L571.3 991.9 L569.3 991.8 L567.3 991.8 L565.3 991.7 L563.3 991.7 L561.3 991.7 L559.3 991.6 L557.3 991.6 L555.3 991.5 L553.3 991.4 L551.3 991.4 L549.3 991.3 L547.2 991.2 L545.2 991.2 L543.2 991.1 L541.2 991.0 L539.2 990.9 L537.2 990.9 L535.2 990.8 L533.2 990.7 L531.2 990.6 L529.2 990.5 L527.2 990.4 L525.2 990.3 L523.2 990.2 L521.2 990.0 L519.2 989.9 L517.2 989.8 L515.2 989.7 L513.2 989.5 L511.2 989.4 L509.2 989.3 L507.2 989.1 L505.2 989.0 L503.2 988.8 L501.2 988.7 L499.2 988.5 L497.2 988.3 L495.2 988.2 L493.2 988.0 L491.2 987.8 L489.2 987.6 L487.2 987.4 L485.2 987.2 L483.2 987.0 L481.2 986.8 L479.2 986.6 L477.2 986.4 L475.2 986.2 L473.2 986.0 L471.2 985.7 L469.2 985.5 L467.2 985.2 L465.2 985.0 L463.2 984.8 L461.2 984.5 L459.2 984.2 L457.2 984.0 L455.2 983.7 L453.2 983.4 L451.2 983.2 L449.2 982.9 L447.1 982.6 L445.1 982.3 L443.1 982.0 L441.1 981.7 L439.1 981.4 L437.1 981.1 L435.1 980.8 L433.1 980.5 L431.1 980.2 L429.1 979.8 L427.1 979.5 L425.1 979.2 L423.1 978.8 L421.1 978.5 L419.1 978.1 L417.1 977.8 L415.1 977.4 L413.1 977.1 L411.1 976.7 L409.1 976.3 L407.1 976.0 L405.1 975.6 L403.1 975.2 L401.1 974.8 L399.1 974.4 L397.1 974.0 L395.1 973.7 L393.1 973.3 L391.1 972.9 L389.1 972.5 L387.1 972.1 L385.1 971.7 L383.1 971.3 L381.1 970.8 L379.1 970.4 L377.1 970.0 L375.1 969.6 L373.1 969.2 L371.1 968.8 L369.1 968.4 L367.1 968.0 L365.1 967.6 L363.1 967.2 L361.1 966.8 L359.1 966.5 L357.1 966.1 L355.1 965.7 L353.1 965.3 L351.1 964.9 L349.0 964.6 L347.0 964.2 L345.0 963.8 L343.0 963.5 L341.0 963.1 L339.0 962.8 L337.0 962.4 L335.0 962.1 L333.0 961.8 L331.0 961.5 L329.0 961.1 L327.0 960.8 L325.0 960.5 L323.0 960.2 L321.0 959.9 L319.0 959.6 L317.0 959.4 L315.0 959.1 L313.0 958.8 L311.0 958.6 L309.0 958.3 L307.0 958.1 L305.0 957.9 L303.0 957.6 L301.0 957.4 L299.0 957.2 L297.0 957.0 L295.0 956.8 L293.0 956.7 L291.0 956.5 L289.0 956.3 L287.0 956.2 L285.0 956.1 L283.0 955.9 L281.0 955.8 L279.0 955.7 L277.0 955.6 L275.0 955.5 L273.0 955.5 L271.0 955.4 L269.0 955.3 L267.0 955.3 L265.0 955.3 L263.0 955.3 L261.0 955.3 L259.0 955.3 L257.0 955.3 L255.0 955.3 L253.0 955.4 L250.9 955.4 L248.9 955.5 L246.9 955.6 L244.9 955.7 L242.9 955.8 L240.9 956.0 L238.9 956.1 L236.9 956.3 L234.9 956.5 L232.9 956.6 L230.9 956.9 L228.9 957.1 L226.9 957.3 L224.9 957.6 L222.9 957.8 L220.9 958.1 L218.9 958.4 L216.9 958.7 L214.9 959.0 L212.9 959.3 L210.9 959.6 L208.9 960.0 L206.9 960.3 L204.9 960.6 L202.9 961.0 L200.9 961.4 L198.9 961.7 L196.9 962.1 L194.9 962.5 L192.9 962.8 L190.9 963.2 L188.9 963.6 L186.9 964.0 L184.9 964.4 L182.9 964.8 L180.9 965.1 L178.9 965.5 L176.9 965.9 L174.9 966.3 L172.9 966.6 L170.9 967.0 L168.9 967.4 L166.9 967.7 L164.9 968.1 L162.9 968.5 L160.9 968.8 L158.9 969.1 L156.9 969.5 L154.9 969.8 L152.9 970.1 L150.8 970.4 L148.8 970.7 L146.8 971.0 L144.8 971.3 L142.8 971.6 L140.8 971.8 L138.8 972.1 L136.8 972.3 L134.8 972.6 L132.8 972.8 L130.8 973.0 L128.8 973.2 L126.8 973.4 L124.8 973.6 L122.8 973.7 L120.8 973.9 L118.8 974.0 L116.8 974.1 L114.8 974.2 L112.8 974.3 L110.8 974.4 L108.8 974.4 L106.8 974.5 L104.8 974.5 L102.8 974.5 Z" fill="#e6e6e6" stroke="none"/>
<path d="M102.8 974.5 L104.8 973.5 L106.8 972.5 L108.8 971.5 L110.8 970.4 L112.8 969.3 L114.8 968.1 L116.8 966.9 L118.8 965.7 L120.8 964.5 L122.8 963.3 L124.8 962.0 L126.8 960.7 L128.8 959.4 L130.8 958.1 L132.8 956.8 L134.9 955.4 L136.9 954.1 L138.9 952.8 L140.9 951.4 L142.9 950.1 L144.9 948.7 L146.9 947.4 L148.9 946.0 L150.9 944.7 L152.9 943.4 L154.9 942.1 L156.9 940.8 L158.9 939.6 L160.9 938.3 L162.9 937.1 L164.9 935.9 L166.9 934.7 L168.9 933.6 L170.9 932.5 L172.9 931.4 L174.9 930.4 L176.9 929.4 L178.9 928.4 L180.9 927.5 L182.9 926.6 L184.9 925.7 L186.9 924.9 L188.9 924.1 L190.9 923.3 L192.9 922.6 L194.9 921.9 L196.9 921.2 L199.0 920.5 L201.0 919.9 L203.0 919.3 L205.0 918.7 L207.0 918.1 L209.0 917.6 L211.0 917.0 L213.0 916.5 L215.0 916.0 L217.0 915.5 L219.0 915.0 L221.0 914.6 L223.0 914.1 L225.0 913.7 L227.0 913.2 L229.0 912.8 L231.0 912.4 L233.0 912.0 L235.0 911.7 L237.0 911.3 L239.0 910.9 L241.0 910.6 L243.0 910.3 L245.0 910.0 L247.0 909.7 L249.0 909.5 L251.0 909.3 L253.0 909.0 L255.0 908.9 L257.0 908.7 L259.0 908.6 L261.1 908.4 L263.1 908.4 L265.1 908.3 L267.1 908.3 L269.1 908.2 L271.1 908.3 L273.1 908.3 L275.1 908.4 L277.1 908.5 L279.1 908.6 L281.1 908.7 L283.1 908.9 L285.1 909.1 L287.1 909.3 L289.1 909.5 L291.1 909.7 L293.1 910.0 L295.1 910.3 L297.1 910.6 L299.1 910.9 L301.1 911.3 L303.1 911.6 L305.1 912.0 L307.1 912.4 L309.1 912.8 L311.1 913.2 L313.1 913.7 L315.1 914.1 L317.1 914.6 L319.1 915.1 L321.1 915.6 L323.1 916.1 L325.2 916.6 L327.2 917.1 L329.2 917.7 L331.2 918.2 L333.2 918.8 L335.2 919.4 L337.2 920.0 L339.2 920.6 L341.2 921.2 L343.2 921.8 L345.2 922.4 L347.2 923.0 L349.2 923.7 L351.2 924.3 L353.2 925.0 L355.2 925.6 L357.2 926.3 L359.2 927.0 L361.2 927.7 L363.2 928.4 L365.2 929.0 L367.2 929.7 L369.2 930.4 L371.2 931.1 L373.2 931.8 L375.2 932.6 L377.2 933.3 L379.2 934.0 L381.2 934.7 L383.2 935.4 L385.2 936.2 L387.3 936.9 L389.3 937.6 L391.3 938.3 L393.3 939.1 L395.3 939.8 L397.3 940.5 L399.3 941.3 L401.3 942.0 L403.3 942.7 L405.3 943.5 L407.3 944.2 L409.3 944.9 L411.3 945.6 L413.3 946.4 L415.3 947.1 L417.3 947.8 L419.3 948.5 L421.3 949.2 L423.3 949.9 L425.3 950.6 L427.3 951.3 L429.3 952.0 L431.3 952.7 L433.3 953.4 L435.3 954.0 L437.3 954.7 L439.3 955.4 L441.3 956.0 L443.3 956.7 L445.3 957.3 L447.3 958.0 L449.4 958.6 L451.4 959.2 L453.4 959.8 L455.4 960.4 L457.4 961.0 L459.4 961.6 L461.4 962.2 L463.4 962.8 L465.4 963.4 L467.4 964.0 L469.4 964.6 L471.4 965.1 L473.4 965.7 L475.4 966.2 L477.4 966.8 L479.4 967.3 L481.4 967.8 L483.4 968.3 L485.4 968.9 L487.4 969.4 L489.4 969.9 L491.4 970.4 L493.4 970.9 L495.4 971.3 L497.4 971.8 L499.4 972.3 L501.4 972.7 L503.4 973.2 L505.4 973.7 L507.4 974.1 L509.4 974.5 L511.4 975.0 L513.5 975.4 L515.5 975.8 L517.5 976.2 L519.5 976.6 L521.5 977.0 L523.5 977.4 L525.5 977.8 L527.5 978.1 L529.5 978.5 L531.5 978.8 L533.5 979.2 L535.5 979.5 L537.5 979.9 L539.5 980.2 L541.5 980.5 L543.5 980.8 L545.5 981.1 L547.5 981.4 L549.5 981.7 L551.5 982.0 L553.5 982.3 L555.5 982.6 L557.5 982.8 L559.5 983.1 L561.5 983.3 L563.5 983.6 L565.5 983.8 L567.5 984.0 L569.5 984.3 L571.5 984.5 L573.5 984.7 L575.6 984.9 L577.6 985.1 L579.6 985.3 L581.6 985.5 L583.6 985.7 L585.6 985.9 L587.6 986.0 L589.6 986.2 L591.6 986.4 L593.6 986.5 L595.6 986.7 L597.6 986.9 L599.6 987.0 L601.6 987.1 L603.6 987.3 L605.6 987.4 L607.6 987.5 L609.6 987.7 L611.6 987.8 L613.6 987.9 L615.6 988.0 L617.6 988.1 L619.6 988.2 L621.6 988.4 L623.6 988.5 L625.6 988.6 L627.6 988.6 L629.6 988.7 L631.6 988.8 L633.6 988.9 L635.6 989.0 L637.6 989.1 L639.7 989.2 L641.7 989.2 L643.7 989.3 L645.7 989.4 L647.7 989.5 L649.7 989.5 L651.7 989.6 L653.7 989.7 L655.7 989.7 L657.7 989.8 L659.7 989.9 L661.7 989.9 L663.7 990.0 L665.7 990.0 L667.7 990.1 L669.7 990.1 L671.7 990.2 L673.7 990.3 L675.7 990.3 L677.7 990.4 L679.7 990.4 L681.7 990.5 L683.7 990.5 L685.7 990.6 L687.7 990.6 L689.7 990.7 L691.7 990.8 L693.7 990.8 L695.7 990.9 L697.7 990.9 L699.7 991.0 L701.8 991.0 L703.8 991.1 L705.8 991.1 L707.8 991.2 L709.8 991.2 L711.8 991.3 L713.8 991.3 L715.8 991.4 L717.8 991.4 L719.8 991.4 L721.8 991.5 L723.8 991.5 L725.8 991.6 L727.8 991.6 L729.8 991.6 L731.8 991.7 L733.8 991.7 L735.8 991.7 L737.8 991.8 L739.8 991.8 L741.8 991.8 L743.8 991.9 L745.8 991.9 L747.8 991.9 L749.8 991.9 L751.8 991.9 L753.8 992.0 L755.8 992.0 L757.8 992.0 L759.8 992.0 L761.8 992.0 L763.8 992.0 L765.9 992.0 L767.9 992.0 L769.9 992.0 L771.9 992.0 L773.9 992.0 L775.9 992.0 L777.9 992.0 L779.9 992.0 L781.9 992.0 L783.9 992.0 L785.9 991.9 L787.9 991.9 L789.9 991.9 L791.9 991.9 L793.9 991.8 L795.9 991.8" fill="none" stroke="#ff0000" stroke-width="1.90" stroke-linejoin="round"/>
</g>
<g stroke="#222" stroke-width="1.15" fill="none">
<path d="M74.6 973.6 H823.7"/>
<path d="M74.6 597.6 V1007.7 H823.7"/>
<path d="M74.6 992.1 H65.4 M74.6 897.4 H65.4 M74.6 802.7 H65.4 M74.6 708.0 H65.4 M74.6 613.3 H65.4 M89.2 1007.7 V1016.9 M252.9 1007.7 V1016.9 M416.6 1007.7 V1016.9 M580.3 1007.7 V1016.9 M744.0 1007.7 V1016.9"/>
</g>
<text transform="translate(53.6 992.1) rotate(-90) scale(0.932 1)" text-anchor="middle">0</text>
<text transform="translate(53.6 897.4) rotate(-90) scale(0.932 1)" text-anchor="middle">5</text>
<text transform="translate(53.6 801.7) rotate(-90) scale(0.932 1)" text-anchor="middle">10</text>
<text transform="translate(53.6 707.0) rotate(-90) scale(0.932 1)" text-anchor="middle">15</text>
<text transform="translate(53.6 612.3) rotate(-90) scale(0.932 1)" text-anchor="middle">20</text>
<text transform="translate(88.1 1039.8) scale(0.932 1)" text-anchor="middle">0</text>
<text transform="translate(251.8 1039.8) scale(0.932 1)" text-anchor="middle">200</text>
<text transform="translate(415.5 1039.8) scale(0.932 1)" text-anchor="middle">400</text>
<text transform="translate(579.2 1039.8) scale(0.932 1)" text-anchor="middle">600</text>
<text transform="translate(742.9 1039.8) scale(0.932 1)" text-anchor="middle">800</text>
<text transform="translate(449.3 1076.2) scale(0.932 1)" text-anchor="middle">PM10</text>
<text transform="translate(18.8 802.7) rotate(-90) scale(0.932 1)" text-anchor="middle">Relative Risk</text>
<text x="448.1" y="568.8" text-anchor="middle" font-weight="bold" font-size="18">EV71</text>
<defs><clipPath id="c3"><rect x="900.6" y="598.2" width="746.7" height="410.1"/></clipPath></defs>
<g clip-path="url(#c3)">
<path d="M928.3 977.1 L930.3 976.3 L932.3 974.3 L934.4 971.2 L936.4 967.4 L938.4 962.9 L940.4 955.0 L942.5 946.4 L944.5 939.2 L946.5 932.0 L948.5 923.8 L950.6 914.5 L952.6 903.6 L954.6 889.9 L956.6 874.3 L958.7 857.9 L960.7 840.0 L962.7 820.4 L964.8 797.9 L966.8 772.7 L968.8 746.4 L970.8 720.8 L972.9 696.7 L974.9 672.9 L976.9 648.7 L978.9 624.5 L981.0 600.0 L983.0 575.2 L985.0 550.0 L1015.0 563.0 L1017.0 575.6 L1019.0 587.4 L1021.0 598.6 L1023.0 609.2 L1025.0 619.1 L1027.0 628.5 L1029.0 637.4 L1031.0 645.7 L1033.0 653.6 L1035.0 661.1 L1037.0 668.1 L1039.0 674.8 L1041.0 681.2 L1043.0 687.2 L1045.0 693.1 L1047.0 698.7 L1049.0 704.1 L1051.0 709.3 L1053.0 714.3 L1055.0 719.2 L1057.0 723.9 L1059.0 728.4 L1061.0 732.8 L1063.0 737.1 L1065.0 741.2 L1067.0 745.1 L1069.0 749.0 L1071.0 752.6 L1073.0 756.2 L1075.0 759.7 L1077.0 763.0 L1079.0 766.2 L1081.0 769.4 L1083.0 772.4 L1085.0 775.3 L1087.0 778.2 L1089.0 780.9 L1091.0 783.6 L1093.0 786.1 L1095.0 788.6 L1097.0 790.9 L1099.0 793.2 L1101.0 795.4 L1103.0 797.6 L1105.0 799.6 L1107.0 801.6 L1109.0 803.4 L1111.0 805.2 L1113.0 807.0 L1115.0 808.6 L1117.0 810.2 L1119.0 811.7 L1121.0 813.1 L1123.0 814.5 L1125.0 815.8 L1127.0 817.0 L1129.0 818.2 L1131.0 819.3 L1133.0 820.4 L1135.0 821.4 L1137.0 822.3 L1139.0 823.2 L1141.0 824.0 L1143.0 824.8 L1145.0 825.5 L1147.0 826.1 L1149.0 826.7 L1151.0 827.3 L1153.0 827.8 L1155.0 828.2 L1157.0 828.6 L1159.0 828.9 L1161.0 829.2 L1163.0 829.4 L1165.0 829.5 L1167.0 829.6 L1169.0 829.6 L1171.0 829.6 L1173.0 829.5 L1175.0 829.4 L1177.0 829.2 L1179.0 828.9 L1181.0 828.6 L1183.0 828.2 L1185.0 827.8 L1187.0 827.3 L1189.0 826.7 L1191.0 826.1 L1193.0 825.4 L1195.0 824.7 L1197.0 823.9 L1199.0 823.0 L1201.0 822.0 L1203.0 821.0 L1205.0 819.9 L1207.0 818.7 L1209.0 817.4 L1211.0 816.1 L1213.0 814.7 L1215.0 813.2 L1217.0 811.6 L1219.0 809.9 L1221.0 808.2 L1223.0 806.4 L1225.0 804.4 L1227.0 802.4 L1229.0 800.3 L1231.0 798.1 L1233.0 795.8 L1235.0 793.5 L1237.0 791.0 L1239.0 788.4 L1241.0 785.8 L1243.0 783.0 L1245.0 780.1 L1247.0 777.1 L1249.0 774.1 L1251.0 770.9 L1253.0 767.6 L1255.0 764.2 L1257.0 760.7 L1259.0 757.1 L1261.0 753.3 L1263.0 749.5 L1265.0 745.5 L1267.0 741.4 L1269.0 737.1 L1271.0 732.7 L1273.0 728.1 L1275.0 723.3 L1277.0 718.2 L1279.0 713.0 L1281.0 707.4 L1283.0 701.7 L1285.0 695.6 L1287.0 689.3 L1289.0 682.6 L1291.0 675.6 L1293.0 668.3 L1295.0 660.7 L1297.0 652.6 L1299.0 644.2 L1301.0 635.4 L1303.0 626.3 L1305.0 617.0 L1307.0 607.4 L1309.0 597.6 L1311.0 587.8 L1313.0 577.9 L1315.0 568.0 L1621.1 560.0 L1621.1 991.5 L1619.1 991.5 L1617.1 991.5 L1615.1 991.4 L1613.1 991.4 L1611.1 991.4 L1609.1 991.4 L1607.1 991.3 L1605.1 991.3 L1603.1 991.3 L1601.1 991.2 L1599.1 991.2 L1597.1 991.2 L1595.1 991.2 L1593.1 991.1 L1591.1 991.1 L1589.1 991.1 L1587.1 991.0 L1585.1 991.0 L1583.1 991.0 L1581.1 990.9 L1579.1 990.9 L1577.0 990.9 L1575.0 990.8 L1573.0 990.8 L1571.0 990.8 L1569.0 990.7 L1567.0 990.7 L1565.0 990.6 L1563.0 990.6 L1561.0 990.6 L1559.0 990.5 L1557.0 990.5 L1555.0 990.4 L1553.0 990.4 L1551.0 990.4 L1549.0 990.3 L1547.0 990.3 L1545.0 990.2 L1543.0 990.2 L1541.0 990.1 L1539.0 990.1 L1537.0 990.0 L1535.0 990.0 L1533.0 989.9 L1531.0 989.9 L1529.0 989.8 L1527.0 989.8 L1525.0 989.7 L1523.0 989.7 L1521.0 989.6 L1519.0 989.6 L1517.0 989.5 L1515.0 989.4 L1513.0 989.4 L1511.0 989.3 L1509.0 989.3 L1507.0 989.2 L1505.0 989.1 L1503.0 989.1 L1501.0 989.0 L1499.0 989.0 L1497.0 988.9 L1495.0 988.8 L1493.0 988.8 L1490.9 988.7 L1488.9 988.6 L1486.9 988.6 L1484.9 988.5 L1482.9 988.4 L1480.9 988.4 L1478.9 988.3 L1476.9 988.2 L1474.9 988.1 L1472.9 988.1 L1470.9 988.0 L1468.9 987.9 L1466.9 987.8 L1464.9 987.8 L1462.9 987.7 L1460.9 987.6 L1458.9 987.5 L1456.9 987.4 L1454.9 987.4 L1452.9 987.3 L1450.9 987.2 L1448.9 987.1 L1446.9 987.0 L1444.9 986.9 L1442.9 986.8 L1440.9 986.7 L1438.9 986.7 L1436.9 986.6 L1434.9 986.5 L1432.9 986.4 L1430.9 986.3 L1428.9 986.2 L1426.9 986.1 L1424.9 986.0 L1422.9 985.9 L1420.9 985.8 L1418.9 985.7 L1416.9 985.6 L1414.9 985.5 L1412.9 985.4 L1410.9 985.3 L1408.9 985.2 L1406.9 985.1 L1404.9 985.0 L1402.8 984.9 L1400.8 984.8 L1398.8 984.6 L1396.8 984.5 L1394.8 984.4 L1392.8 984.3 L1390.8 984.2 L1388.8 984.1 L1386.8 984.0 L1384.8 983.8 L1382.8 983.7 L1380.8 983.6 L1378.8 983.5 L1376.8 983.4 L1374.8 983.2 L1372.8 983.1 L1370.8 983.0 L1368.8 982.9 L1366.8 982.7 L1364.8 982.6 L1362.8 982.5 L1360.8 982.3 L1358.8 982.2 L1356.8 982.1 L1354.8 981.9 L1352.8 981.8 L1350.8 981.7 L1348.8 981.5 L1346.8 981.4 L1344.8 981.2 L1342.8 981.1 L1340.8 981.0 L1338.8 980.8 L1336.8 980.7 L1334.8 980.5 L1332.8 980.4 L1330.8 980.2 L1328.8 980.1 L1326.8 979.9 L1324.8 979.8 L1322.8 979.6 L1320.8 979.5 L1318.8 979.3 L1316.7 979.1 L1314.7 979.0 L1312.7 978.8 L1310.7 978.7 L1308.7 978.5 L1306.7 978.3 L1304.7 978.2 L1302.7 978.0 L1300.7 977.8 L1298.7 977.7 L1296.7 977.5 L1294.7 977.3 L1292.7 977.1 L1290.7 977.0 L1288.7 976.8 L1286.7 976.6 L1284.7 976.4 L1282.7 976.2 L1280.7 976.1 L1278.7 975.9 L1276.7 975.7 L1274.7 975.5 L1272.7 975.3 L1270.7 975.1 L1268.7 974.9 L1266.7 974.8 L1264.7 974.6 L1262.7 974.4 L1260.7 974.2 L1258.7 974.0 L1256.7 973.8 L1254.7 973.6 L1252.7 973.4 L1250.7 973.2 L1248.7 973.0 L1246.7 972.8 L1244.7 972.6 L1242.7 972.3 L1240.7 972.1 L1238.7 971.9 L1236.7 971.7 L1234.7 971.5 L1232.7 971.3 L1230.6 971.1 L1228.6 970.8 L1226.6 970.6 L1224.6 970.4 L1222.6 970.2 L1220.6 970.0 L1218.6 969.7 L1216.6 969.5 L1214.6 969.3 L1212.6 969.0 L1210.6 968.8 L1208.6 968.6 L1206.6 968.3 L1204.6 968.1 L1202.6 967.9 L1200.6 967.6 L1198.6 967.4 L1196.6 967.1 L1194.6 966.9 L1192.6 966.6 L1190.6 966.4 L1188.6 966.1 L1186.6 965.9 L1184.6 965.6 L1182.6 965.4 L1180.6 965.1 L1178.6 964.9 L1176.6 964.6 L1174.6 964.4 L1172.6 964.1 L1170.6 963.8 L1168.6 963.6 L1166.6 963.3 L1164.6 963.0 L1162.6 962.8 L1160.6 962.5 L1158.6 962.2 L1156.6 961.9 L1154.6 961.7 L1152.6 961.4 L1150.6 961.1 L1148.6 960.8 L1146.6 960.5 L1144.5 960.2 L1142.5 960.0 L1140.5 959.7 L1138.5 959.4 L1136.5 959.1 L1134.5 958.8 L1132.5 958.5 L1130.5 958.2 L1128.5 957.9 L1126.5 957.6 L1124.5 957.3 L1122.5 957.0 L1120.5 956.6 L1118.5 956.3 L1116.5 956.0 L1114.5 955.7 L1112.5 955.3 L1110.5 955.0 L1108.5 954.7 L1106.5 954.3 L1104.5 954.0 L1102.5 953.6 L1100.5 953.2 L1098.5 952.9 L1096.5 952.5 L1094.5 952.1 L1092.5 951.8 L1090.5 951.4 L1088.5 951.0 L1086.5 950.6 L1084.5 950.2 L1082.5 949.8 L1080.5 949.4 L1078.5 948.9 L1076.5 948.5 L1074.5 948.1 L1072.5 947.6 L1070.5 947.2 L1068.5 946.7 L1066.5 946.2 L1064.5 945.8 L1062.5 945.3 L1060.5 944.8 L1058.5 944.3 L1056.4 943.7 L1054.4 943.2 L1052.4 942.6 L1050.4 942.0 L1048.4 941.4 L1046.4 940.8 L1044.4 940.2 L1042.4 939.5 L1040.4 938.8 L1038.4 938.1 L1036.4 937.4 L1034.4 936.6 L1032.4 935.9 L1030.4 935.1 L1028.4 934.3 L1026.4 933.5 L1024.4 932.7 L1022.4 931.9 L1020.4 931.2 L1018.4 930.4 L1016.4 929.7 L1014.4 929.1 L1012.4 928.5 L1010.4 927.9 L1008.4 927.4 L1006.4 927.0 L1004.4 926.7 L1002.4 926.4 L1000.4 926.2 L998.4 926.1 L996.4 926.1 L994.4 926.2 L992.4 926.4 L990.4 926.7 L988.4 927.1 L986.4 927.6 L984.4 928.2 L982.4 929.0 L980.4 929.8 L978.4 930.8 L976.4 931.8 L974.4 933.0 L972.4 934.3 L970.3 935.7 L968.3 937.2 L966.3 938.8 L964.3 940.5 L962.3 942.3 L960.3 944.2 L958.3 946.2 L956.3 948.2 L954.3 950.3 L952.3 952.5 L950.3 954.7 L948.3 957.0 L946.3 959.3 L944.3 961.6 L942.3 963.9 L940.3 966.1 L938.3 968.3 L936.3 970.4 L934.3 972.3 L932.3 974.1 L930.3 975.7 L928.3 977.1 Z" fill="#e6e6e6" stroke="none"/>
<path d="M928.3 977.1 L930.3 975.2 L932.3 973.1 L934.3 970.8 L936.3 968.2 L938.3 965.3 L940.3 962.1 L942.3 958.6 L944.3 954.8 L946.3 950.6 L948.3 946.0 L950.3 940.9 L952.3 935.5 L954.3 929.6 L956.3 923.2 L958.3 916.4 L960.3 909.3 L962.3 901.9 L964.3 894.4 L966.3 886.9 L968.3 879.3 L970.3 871.8 L972.4 864.5 L974.4 857.4 L976.4 850.7 L978.4 844.3 L980.4 838.4 L982.4 833.0 L984.4 828.2 L986.4 823.9 L988.4 820.4 L990.4 817.5 L992.4 815.4 L994.4 814.0 L996.4 813.2 L998.4 813.1 L1000.4 813.5 L1002.4 814.4 L1004.4 815.8 L1006.4 817.5 L1008.4 819.6 L1010.4 821.9 L1012.4 824.5 L1014.4 827.1 L1016.4 829.8 L1018.4 832.6 L1020.4 835.3 L1022.4 838.1 L1024.4 840.7 L1026.4 843.4 L1028.4 846.0 L1030.4 848.5 L1032.4 850.9 L1034.4 853.3 L1036.4 855.6 L1038.4 857.9 L1040.4 860.0 L1042.4 862.2 L1044.4 864.2 L1046.4 866.2 L1048.4 868.2 L1050.4 870.1 L1052.4 871.9 L1054.4 873.7 L1056.4 875.4 L1058.5 877.1 L1060.5 878.7 L1062.5 880.2 L1064.5 881.8 L1066.5 883.2 L1068.5 884.7 L1070.5 886.1 L1072.5 887.4 L1074.5 888.7 L1076.5 890.0 L1078.5 891.2 L1080.5 892.4 L1082.5 893.5 L1084.5 894.7 L1086.5 895.7 L1088.5 896.8 L1090.5 897.8 L1092.5 898.8 L1094.5 899.8 L1096.5 900.7 L1098.5 901.6 L1100.5 902.5 L1102.5 903.3 L1104.5 904.2 L1106.5 905.0 L1108.5 905.8 L1110.5 906.6 L1112.5 907.3 L1114.5 908.1 L1116.5 908.8 L1118.5 909.5 L1120.5 910.2 L1122.5 910.9 L1124.5 911.6 L1126.5 912.2 L1128.5 912.8 L1130.5 913.5 L1132.5 914.1 L1134.5 914.6 L1136.5 915.2 L1138.5 915.8 L1140.5 916.3 L1142.5 916.8 L1144.5 917.3 L1146.6 917.8 L1148.6 918.3 L1150.6 918.7 L1152.6 919.2 L1154.6 919.6 L1156.6 920.0 L1158.6 920.4 L1160.6 920.8 L1162.6 921.2 L1164.6 921.5 L1166.6 921.9 L1168.6 922.2 L1170.6 922.5 L1172.6 922.9 L1174.6 923.2 L1176.6 923.4 L1178.6 923.7 L1180.6 924.0 L1182.6 924.2 L1184.6 924.4 L1186.6 924.7 L1188.6 924.9 L1190.6 925.1 L1192.6 925.3 L1194.6 925.4 L1196.6 925.6 L1198.6 925.7 L1200.6 925.9 L1202.6 926.0 L1204.6 926.1 L1206.6 926.2 L1208.6 926.3 L1210.6 926.4 L1212.6 926.5 L1214.6 926.6 L1216.6 926.6 L1218.6 926.7 L1220.6 926.7 L1222.6 926.7 L1224.6 926.8 L1226.6 926.8 L1228.6 926.8 L1230.6 926.8 L1232.7 926.7 L1234.7 926.7 L1236.7 926.7 L1238.7 926.6 L1240.7 926.5 L1242.7 926.5 L1244.7 926.4 L1246.7 926.3 L1248.7 926.2 L1250.7 926.1 L1252.7 926.0 L1254.7 925.9 L1256.7 925.7 L1258.7 925.6 L1260.7 925.4 L1262.7 925.3 L1264.7 925.1 L1266.7 924.9 L1268.7 924.7 L1270.7 924.5 L1272.7 924.3 L1274.7 924.1 L1276.7 923.9 L1278.7 923.6 L1280.7 923.4 L1282.7 923.2 L1284.7 922.9 L1286.7 922.6 L1288.7 922.4 L1290.7 922.1 L1292.7 921.8 L1294.7 921.5 L1296.7 921.2 L1298.7 920.9 L1300.7 920.6 L1302.7 920.2 L1304.7 919.9 L1306.7 919.6 L1308.7 919.2 L1310.7 918.9 L1312.7 918.5 L1314.7 918.1 L1316.7 917.7 L1318.8 917.3 L1320.8 916.9 L1322.8 916.5 L1324.8 916.1 L1326.8 915.7 L1328.8 915.3 L1330.8 914.8 L1332.8 914.4 L1334.8 913.9 L1336.8 913.4 L1338.8 912.9 L1340.8 912.4 L1342.8 911.9 L1344.8 911.4 L1346.8 910.9 L1348.8 910.3 L1350.8 909.8 L1352.8 909.2 L1354.8 908.6 L1356.8 908.1 L1358.8 907.5 L1360.8 906.8 L1362.8 906.2 L1364.8 905.6 L1366.8 904.9 L1368.8 904.3 L1370.8 903.6 L1372.8 902.9 L1374.8 902.2 L1376.8 901.5 L1378.8 900.8 L1380.8 900.0 L1382.8 899.3 L1384.8 898.5 L1386.8 897.7 L1388.8 896.9 L1390.8 896.1 L1392.8 895.2 L1394.8 894.4 L1396.8 893.5 L1398.8 892.7 L1400.8 891.8 L1402.8 890.8 L1404.9 889.9 L1406.9 889.0 L1408.9 888.0 L1410.9 887.0 L1412.9 886.1 L1414.9 885.0 L1416.9 884.0 L1418.9 883.0 L1420.9 881.9 L1422.9 880.8 L1424.9 879.7 L1426.9 878.6 L1428.9 877.5 L1430.9 876.3 L1432.9 875.1 L1434.9 873.9 L1436.9 872.7 L1438.9 871.5 L1440.9 870.2 L1442.9 868.9 L1444.9 867.6 L1446.9 866.3 L1448.9 864.9 L1450.9 863.5 L1452.9 862.1 L1454.9 860.7 L1456.9 859.2 L1458.9 857.8 L1460.9 856.2 L1462.9 854.7 L1464.9 853.1 L1466.9 851.5 L1468.9 849.9 L1470.9 848.2 L1472.9 846.6 L1474.9 844.8 L1476.9 843.1 L1478.9 841.3 L1480.9 839.5 L1482.9 837.7 L1484.9 835.8 L1486.9 833.9 L1488.9 831.9 L1490.9 829.9 L1493.0 827.9 L1495.0 825.9 L1497.0 823.8 L1499.0 821.7 L1501.0 819.5 L1503.0 817.3 L1505.0 815.1 L1507.0 812.8 L1509.0 810.5 L1511.0 808.2 L1513.0 805.8 L1515.0 803.4 L1517.0 800.9 L1519.0 798.4 L1521.0 795.8 L1523.0 793.2 L1525.0 790.6 L1527.0 787.9 L1529.0 785.2 L1531.0 782.5 L1533.0 779.6 L1535.0 776.8 L1537.0 773.9 L1539.0 771.0 L1541.0 768.0 L1543.0 764.9 L1545.0 761.9 L1547.0 758.8 L1549.0 755.6 L1551.0 752.4 L1553.0 749.2 L1555.0 745.9 L1557.0 742.6 L1559.0 739.2 L1561.0 735.8 L1563.0 732.3 L1565.0 728.8 L1567.0 725.3 L1569.0 721.7 L1571.0 718.1 L1573.0 714.4 L1575.0 710.7 L1577.0 707.0 L1579.1 703.2 L1581.1 699.4 L1583.1 695.5 L1585.1 691.6 L1587.1 687.7 L1589.1 683.7 L1591.1 679.7 L1593.1 675.6 L1595.1 671.5 L1597.1 667.4 L1599.1 663.2 L1601.1 659.0 L1603.1 654.7 L1605.1 650.4 L1607.1 646.1 L1609.1 641.7 L1611.1 637.3 L1613.1 632.9 L1615.1 628.4 L1617.1 623.9 L1619.1 619.3 L1621.1 614.7" fill="none" stroke="#ff0000" stroke-width="1.90" stroke-linejoin="round"/>
</g>
<g stroke="#222" stroke-width="1.15" fill="none">
<path d="M900.6 974.4 H1647.3"/>
<path d="M900.6 598.2 V1008.3 H1647.3"/>
<path d="M900.6 993.0 H891.4 M900.6 898.3 H891.4 M900.6 803.6 H891.4 M900.6 708.8 H891.4 M900.6 614.1 H891.4 M915.0 1008.3 V1017.5 M1078.8 1008.3 V1017.5 M1242.6 1008.3 V1017.5 M1406.4 1008.3 V1017.5 M1570.2 1008.3 V1017.5"/>
</g>
<text transform="translate(879.6 993.0) rotate(-90) scale(0.932 1)" text-anchor="middle">0</text>
<text transform="translate(879.6 898.3) rotate(-90) scale(0.932 1)" text-anchor="middle">5</text>
<text transform="translate(879.6 802.6) rotate(-90) scale(0.932 1)" text-anchor="middle">10</text>
<text transform="translate(879.6 707.8) rotate(-90) scale(0.932 1)" text-anchor="middle">15</text>
<text transform="translate(879.6 613.1) rotate(-90) scale(0.932 1)" text-anchor="middle">20</text>
<text transform="translate(913.9 1041.4) scale(0.932 1)" text-anchor="middle">0</text>
<text transform="translate(1077.7 1041.4) scale(0.932 1)" text-anchor="middle">200</text>
<text transform="translate(1241.5 1041.4) scale(0.932 1)" text-anchor="middle">400</text>
<text transform="translate(1405.3 1041.4) scale(0.932 1)" text-anchor="middle">600</text>
<text transform="translate(1569.1 1041.4) scale(0.932 1)" text-anchor="middle">800</text>
<text transform="translate(1274.8 1076.8) scale(0.932 1)" text-anchor="middle">PM10</text>
<text transform="translate(844.8 803.2) rotate(-90) scale(0.932 1)" text-anchor="middle">Relative Risk</text>
<text x="1274.9" y="569.5" text-anchor="middle" font-weight="bold" font-size="18">CVA16</text>
</svg>
</body></html>
